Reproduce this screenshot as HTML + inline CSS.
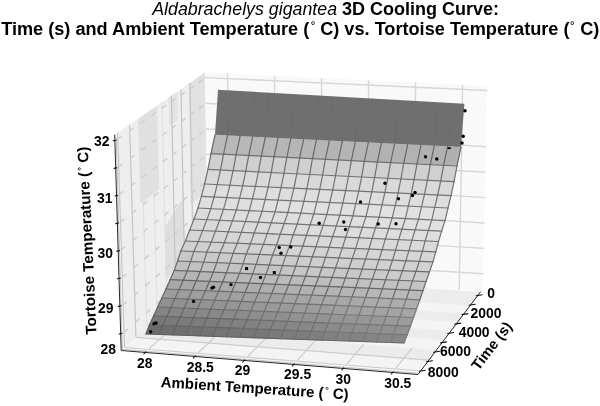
<!DOCTYPE html>
<html><head><meta charset="utf-8"><title>3D Cooling Curve</title><style>html,body{margin:0;padding:0;background:#fff}body{width:600px;height:406px;overflow:hidden}</style></head><body>
<svg width="600" height="406" viewBox="0 0 600 406" style="display:block;filter:blur(0.35px)">
<rect width="600" height="406" fill="#fff"/>
<polygon points="114.7,135.0 205.0,72.5 208.0,273.0 121.2,350.5" fill="#fbfbfb"/>
<polygon points="117.6,133.1 205.0,72.5 208.0,273.0 124.5,347.5" fill="#eeeeee"/>
<polygon points="138.0,119.0 157.0,105.8 159.1,189.0 140.4,203.4" fill="#e0e0e0"/>
<polygon points="168.6,97.7 177.4,91.6 178.0,120.3 169.3,126.6" fill="#e4e4e4"/>
<polygon points="188.5,84.0 205.0,72.5 206.7,188.8 190.7,205.8" fill="#e2e2e2"/>
<polygon points="165.0,226.7 184.0,196.8 185.0,249.9 166.2,280.6" fill="#dedede"/>
<line x1="117.6" y1="133.1" x2="124.5" y2="347.5" stroke="#c2c2c2" stroke-width="1.1"/>
<line x1="129.6" y1="124.8" x2="135.9" y2="337.3" stroke="#c2c2c2" stroke-width="1.1"/>
<line x1="140.9" y1="116.9" x2="146.8" y2="327.6" stroke="#e0e0e0" stroke-width="1.1"/>
<line x1="151.9" y1="109.3" x2="157.3" y2="318.2" stroke="#e0e0e0" stroke-width="1.1"/>
<line x1="162.0" y1="102.3" x2="166.9" y2="309.7" stroke="#e0e0e0" stroke-width="1.1"/>
<line x1="171.4" y1="95.8" x2="175.9" y2="301.6" stroke="#c2c2c2" stroke-width="1.1"/>
<line x1="181.0" y1="89.2" x2="185.0" y2="293.5" stroke="#c2c2c2" stroke-width="1.1"/>
<line x1="190.0" y1="82.9" x2="193.6" y2="285.8" stroke="#c2c2c2" stroke-width="1.1"/>
<line x1="199.0" y1="76.7" x2="202.2" y2="278.1" stroke="#e0e0e0" stroke-width="1.1"/>
<g stroke="#cdcdcd" stroke-width="1.4">
<line x1="117.2" y1="139.5" x2="121.7" y2="136.3"/>
<line x1="129.2" y1="131.1" x2="133.7" y2="128.0"/>
<line x1="140.5" y1="123.2" x2="145.0" y2="120.1"/>
<line x1="151.5" y1="115.5" x2="156.0" y2="112.4"/>
<line x1="161.5" y1="108.5" x2="166.1" y2="105.4"/>
<line x1="171.0" y1="101.9" x2="175.5" y2="98.8"/>
<line x1="180.5" y1="95.3" x2="185.0" y2="92.1"/>
<line x1="189.5" y1="89.0" x2="194.0" y2="85.8"/>
<line x1="198.5" y1="82.7" x2="203.0" y2="79.6"/>
<line x1="118.1" y1="167.1" x2="122.6" y2="163.9"/>
<line x1="130.0" y1="158.5" x2="134.5" y2="155.3"/>
<line x1="141.3" y1="150.3" x2="145.8" y2="147.1"/>
<line x1="152.2" y1="142.4" x2="156.7" y2="139.2"/>
<line x1="162.2" y1="135.2" x2="166.7" y2="132.0"/>
<line x1="171.5" y1="128.4" x2="176.0" y2="125.2"/>
<line x1="181.0" y1="121.6" x2="185.5" y2="118.4"/>
<line x1="189.9" y1="115.1" x2="194.4" y2="111.9"/>
<line x1="198.9" y1="108.7" x2="203.4" y2="105.4"/>
<line x1="119.0" y1="194.7" x2="123.5" y2="191.4"/>
<line x1="130.8" y1="185.9" x2="135.3" y2="182.6"/>
<line x1="142.0" y1="177.5" x2="146.5" y2="174.2"/>
<line x1="152.9" y1="169.4" x2="157.4" y2="166.0"/>
<line x1="162.8" y1="161.9" x2="167.3" y2="158.6"/>
<line x1="172.1" y1="155.0" x2="176.6" y2="151.6"/>
<line x1="181.5" y1="147.9" x2="186.0" y2="144.6"/>
<line x1="190.4" y1="141.3" x2="194.9" y2="138.0"/>
<line x1="199.3" y1="134.6" x2="203.8" y2="131.3"/>
<line x1="119.9" y1="222.4" x2="124.3" y2="219.0"/>
<line x1="131.6" y1="213.3" x2="136.1" y2="209.9"/>
<line x1="142.8" y1="204.6" x2="147.2" y2="201.2"/>
<line x1="153.6" y1="196.3" x2="158.0" y2="192.9"/>
<line x1="163.4" y1="188.6" x2="167.9" y2="185.3"/>
<line x1="172.7" y1="181.5" x2="177.2" y2="178.1"/>
<line x1="182.1" y1="174.2" x2="186.5" y2="170.9"/>
<line x1="190.9" y1="167.4" x2="195.3" y2="164.0"/>
<line x1="199.7" y1="160.6" x2="204.2" y2="157.2"/>
<line x1="120.7" y1="250.0" x2="125.2" y2="246.5"/>
<line x1="132.4" y1="240.6" x2="136.9" y2="237.2"/>
<line x1="143.5" y1="231.8" x2="148.0" y2="228.3"/>
<line x1="154.3" y1="223.2" x2="158.7" y2="219.7"/>
<line x1="164.1" y1="215.4" x2="168.5" y2="211.9"/>
<line x1="173.3" y1="208.0" x2="177.7" y2="204.5"/>
<line x1="182.6" y1="200.6" x2="187.0" y2="197.1"/>
<line x1="191.4" y1="193.5" x2="195.8" y2="190.1"/>
<line x1="200.1" y1="186.5" x2="204.6" y2="183.1"/>
<line x1="121.6" y1="277.6" x2="126.1" y2="274.0"/>
<line x1="133.3" y1="268.0" x2="137.7" y2="264.5"/>
<line x1="144.3" y1="258.9" x2="148.7" y2="255.4"/>
<line x1="155.0" y1="250.1" x2="159.4" y2="246.6"/>
<line x1="164.7" y1="242.1" x2="169.1" y2="238.5"/>
<line x1="173.9" y1="234.5" x2="178.3" y2="231.0"/>
<line x1="183.1" y1="226.9" x2="187.5" y2="223.3"/>
<line x1="191.8" y1="219.7" x2="196.2" y2="216.1"/>
<line x1="200.6" y1="212.5" x2="205.0" y2="208.9"/>
<line x1="122.5" y1="305.2" x2="126.9" y2="301.6"/>
<line x1="134.1" y1="295.4" x2="138.5" y2="291.8"/>
<line x1="145.0" y1="286.1" x2="149.4" y2="282.4"/>
<line x1="155.6" y1="277.0" x2="160.0" y2="273.4"/>
<line x1="165.3" y1="268.8" x2="169.7" y2="265.2"/>
<line x1="174.4" y1="261.0" x2="178.8" y2="257.4"/>
<line x1="183.6" y1="253.2" x2="188.0" y2="249.6"/>
<line x1="192.3" y1="245.8" x2="196.7" y2="242.2"/>
<line x1="201.0" y1="238.4" x2="205.4" y2="234.8"/>
<line x1="123.4" y1="332.8" x2="127.8" y2="329.1"/>
<line x1="134.9" y1="322.8" x2="139.3" y2="319.1"/>
<line x1="145.8" y1="313.2" x2="150.2" y2="309.5"/>
<line x1="156.3" y1="303.9" x2="160.7" y2="300.2"/>
<line x1="166.0" y1="295.5" x2="170.3" y2="291.8"/>
<line x1="175.0" y1="287.6" x2="179.4" y2="283.8"/>
<line x1="184.2" y1="279.5" x2="188.5" y2="275.8"/>
<line x1="192.8" y1="272.0" x2="197.2" y2="268.3"/>
<line x1="201.4" y1="264.4" x2="205.8" y2="260.7"/>
</g>
<polygon points="205.0,72.5 487.5,86.0 482.4,291.5 208.0,273.0" fill="#f9f9f9"/>
<g stroke="#d7d7d7" stroke-width="1.4">
<line x1="227.6" y1="73.6" x2="230.0" y2="274.5"/>
<line x1="274.6" y1="75.8" x2="275.9" y2="277.6"/>
<line x1="321.6" y1="78.1" x2="321.7" y2="280.6"/>
<line x1="368.6" y1="80.3" x2="367.5" y2="283.7"/>
<line x1="415.6" y1="82.6" x2="413.4" y2="286.8"/>
<line x1="462.6" y1="84.8" x2="459.2" y2="289.9"/>
<line x1="205.0" y1="77.6" x2="487.2" y2="90.5"/>
<line x1="205.3" y1="103.2" x2="233.5" y2="105.0"/>
<line x1="205.7" y1="128.8" x2="486.2" y2="146.8"/>
<line x1="206.1" y1="154.4" x2="485.7" y2="172.2"/>
<line x1="206.4" y1="180.0" x2="485.2" y2="197.6"/>
<line x1="206.8" y1="205.6" x2="484.7" y2="223.0"/>
<line x1="207.1" y1="231.2" x2="484.2" y2="248.4"/>
<line x1="207.4" y1="256.8" x2="483.7" y2="273.8"/>
</g>
<polygon points="121.2,350.5 208.0,273.0 480.4,292.0 418.0,374.5" fill="#fafafa"/>
<polygon points="124.5,347.5 208.0,273.0 480.4,292.0 420.6,371.0" fill="#ececec"/>
<polygon points="124.5,347.5 420.6,371.0 428.8,360.2 135.9,337.3" fill="#f4f4f4"/>
<polygon points="146.8,327.6 436.6,349.9 444.1,340.0 157.3,318.2" fill="#f4f4f4"/>
<polygon points="166.9,309.7 451.0,330.9 457.4,322.3 175.9,301.6" fill="#f4f4f4"/>
<polygon points="185.0,293.5 464.0,313.7 470.1,305.6 193.6,285.8" fill="#f4f4f4"/>
<g stroke="#cdcdcd" stroke-width="1.2">
<line x1="124.5" y1="347.5" x2="420.6" y2="371.0"/>
<line x1="135.9" y1="337.3" x2="428.8" y2="360.2"/>
<line x1="149.3" y1="348.5" x2="170.8" y2="329.1"/>
<line x1="198.6" y1="352.5" x2="219.0" y2="332.8"/>
<line x1="247.9" y1="356.4" x2="267.3" y2="336.6"/>
<line x1="297.2" y1="360.4" x2="315.5" y2="340.3"/>
<line x1="346.5" y1="364.3" x2="363.8" y2="344.1"/>
<line x1="395.8" y1="368.3" x2="412.0" y2="347.8"/>
</g>
<polygon points="215.0,134.8 227.5,135.4 223.5,154.3 211.0,153.6" fill="#b9b9b9" stroke="#b9b9b9" stroke-width="0.4"/>
<polygon points="227.5,135.4 240.1,136.1 236.1,154.9 223.5,154.3" fill="#b8b8b8" stroke="#b8b8b8" stroke-width="0.4"/>
<polygon points="240.1,136.1 252.7,136.7 248.7,155.6 236.1,154.9" fill="#b8b8b8" stroke="#b8b8b8" stroke-width="0.4"/>
<polygon points="252.7,136.7 265.3,137.4 261.3,156.2 248.7,155.6" fill="#b8b8b8" stroke="#b8b8b8" stroke-width="0.4"/>
<polygon points="265.3,137.4 278.0,138.0 274.0,156.9 261.3,156.2" fill="#b7b7b7" stroke="#b7b7b7" stroke-width="0.4"/>
<polygon points="278.0,138.0 290.8,138.7 286.8,157.5 274.0,156.9" fill="#b6b6b6" stroke="#b6b6b6" stroke-width="0.4"/>
<polygon points="290.8,138.7 303.6,139.3 299.6,158.2 286.8,157.5" fill="#b6b6b6" stroke="#b6b6b6" stroke-width="0.4"/>
<polygon points="303.6,139.3 316.4,139.9 312.4,158.8 299.6,158.2" fill="#b6b6b6" stroke="#b6b6b6" stroke-width="0.4"/>
<polygon points="316.4,139.9 329.3,140.6 325.3,159.5 312.4,158.8" fill="#b5b5b5" stroke="#b5b5b5" stroke-width="0.4"/>
<polygon points="329.3,140.6 342.3,141.2 338.3,160.1 325.3,159.5" fill="#b4b4b4" stroke="#b4b4b4" stroke-width="0.4"/>
<polygon points="342.3,141.2 355.3,141.9 351.3,160.8 338.3,160.1" fill="#b4b4b4" stroke="#b4b4b4" stroke-width="0.4"/>
<polygon points="355.3,141.9 368.3,142.5 364.3,161.4 351.3,160.8" fill="#b4b4b4" stroke="#b4b4b4" stroke-width="0.4"/>
<polygon points="368.3,142.5 381.4,143.1 377.4,162.1 364.3,161.4" fill="#b3b3b3" stroke="#b3b3b3" stroke-width="0.4"/>
<polygon points="381.4,143.1 394.6,143.8 390.6,162.7 377.4,162.1" fill="#b2b2b2" stroke="#b2b2b2" stroke-width="0.4"/>
<polygon points="394.6,143.8 407.7,144.4 403.7,163.4 390.6,162.7" fill="#b2b2b2" stroke="#b2b2b2" stroke-width="0.4"/>
<polygon points="407.7,144.4 421.0,145.1 417.0,164.0 403.7,163.4" fill="#b2b2b2" stroke="#b2b2b2" stroke-width="0.4"/>
<polygon points="421.0,145.1 434.3,145.7 430.3,164.7 417.0,164.0" fill="#b1b1b1" stroke="#b1b1b1" stroke-width="0.4"/>
<polygon points="434.3,145.7 447.6,146.4 443.6,165.3 430.3,164.7" fill="#b0b0b0" stroke="#b0b0b0" stroke-width="0.4"/>
<polygon points="447.6,146.4 461.0,147.0 457.0,166.0 443.6,165.3" fill="#b0b0b0" stroke="#b0b0b0" stroke-width="0.4"/>
<polygon points="211.0,153.6 223.5,154.3 220.5,170.0 207.9,169.4" fill="#cfcfcf" stroke="#cfcfcf" stroke-width="0.4"/>
<polygon points="223.5,154.3 236.1,154.9 233.1,170.7 220.5,170.0" fill="#cfcfcf" stroke="#cfcfcf" stroke-width="0.4"/>
<polygon points="236.1,154.9 248.7,155.6 245.7,171.3 233.1,170.7" fill="#cfcfcf" stroke="#cfcfcf" stroke-width="0.4"/>
<polygon points="248.7,155.6 261.3,156.2 258.4,172.0 245.7,171.3" fill="#cfcfcf" stroke="#cfcfcf" stroke-width="0.4"/>
<polygon points="261.3,156.2 274.0,156.9 271.2,172.6 258.4,172.0" fill="#cfcfcf" stroke="#cfcfcf" stroke-width="0.4"/>
<polygon points="274.0,156.9 286.8,157.5 284.0,173.3 271.2,172.6" fill="#cfcfcf" stroke="#cfcfcf" stroke-width="0.4"/>
<polygon points="286.8,157.5 299.6,158.2 296.8,173.9 284.0,173.3" fill="#cfcfcf" stroke="#cfcfcf" stroke-width="0.4"/>
<polygon points="299.6,158.2 312.4,158.8 309.7,174.5 296.8,173.9" fill="#cfcfcf" stroke="#cfcfcf" stroke-width="0.4"/>
<polygon points="312.4,158.8 325.3,159.5 322.6,175.2 309.7,174.5" fill="#cfcfcf" stroke="#cfcfcf" stroke-width="0.4"/>
<polygon points="325.3,159.5 338.3,160.1 335.5,175.8 322.6,175.2" fill="#d0d0d0" stroke="#d0d0d0" stroke-width="0.4"/>
<polygon points="338.3,160.1 351.3,160.8 348.5,176.5 335.5,175.8" fill="#d0d0d0" stroke="#d0d0d0" stroke-width="0.4"/>
<polygon points="351.3,160.8 364.3,161.4 361.6,177.1 348.5,176.5" fill="#d0d0d0" stroke="#d0d0d0" stroke-width="0.4"/>
<polygon points="364.3,161.4 377.4,162.1 374.6,177.7 361.6,177.1" fill="#d0d0d0" stroke="#d0d0d0" stroke-width="0.4"/>
<polygon points="377.4,162.1 390.6,162.7 387.8,178.4 374.6,177.7" fill="#d0d0d0" stroke="#d0d0d0" stroke-width="0.4"/>
<polygon points="390.6,162.7 403.7,163.4 400.9,179.0 387.8,178.4" fill="#d0d0d0" stroke="#d0d0d0" stroke-width="0.4"/>
<polygon points="403.7,163.4 417.0,164.0 414.1,179.7 400.9,179.0" fill="#d0d0d0" stroke="#d0d0d0" stroke-width="0.4"/>
<polygon points="417.0,164.0 430.3,164.7 427.4,180.3 414.1,179.7" fill="#d0d0d0" stroke="#d0d0d0" stroke-width="0.4"/>
<polygon points="430.3,164.7 443.6,165.3 440.7,181.0 427.4,180.3" fill="#d0d0d0" stroke="#d0d0d0" stroke-width="0.4"/>
<polygon points="443.6,165.3 457.0,166.0 454.0,181.6 440.7,181.0" fill="#d0d0d0" stroke="#d0d0d0" stroke-width="0.4"/>
<polygon points="207.9,169.4 220.5,170.0 217.2,184.6 204.6,184.0" fill="#d9d9d9" stroke="#d9d9d9" stroke-width="0.4"/>
<polygon points="220.5,170.0 233.1,170.7 229.9,185.2 217.2,184.6" fill="#d9d9d9" stroke="#d9d9d9" stroke-width="0.4"/>
<polygon points="233.1,170.7 245.7,171.3 242.7,185.8 229.9,185.2" fill="#d9d9d9" stroke="#d9d9d9" stroke-width="0.4"/>
<polygon points="245.7,171.3 258.4,172.0 255.4,186.4 242.7,185.8" fill="#d9d9d9" stroke="#d9d9d9" stroke-width="0.4"/>
<polygon points="258.4,172.0 271.2,172.6 268.2,187.1 255.4,186.4" fill="#d9d9d9" stroke="#d9d9d9" stroke-width="0.4"/>
<polygon points="271.2,172.6 284.0,173.3 281.0,187.7 268.2,187.1" fill="#d9d9d9" stroke="#d9d9d9" stroke-width="0.4"/>
<polygon points="284.0,173.3 296.8,173.9 293.9,188.3 281.0,187.7" fill="#d9d9d9" stroke="#d9d9d9" stroke-width="0.4"/>
<polygon points="296.8,173.9 309.7,174.5 306.8,188.9 293.9,188.3" fill="#d9d9d9" stroke="#d9d9d9" stroke-width="0.4"/>
<polygon points="309.7,174.5 322.6,175.2 319.7,189.5 306.8,188.9" fill="#d9d9d9" stroke="#d9d9d9" stroke-width="0.4"/>
<polygon points="322.6,175.2 335.5,175.8 332.7,190.1 319.7,189.5" fill="#d9d9d9" stroke="#d9d9d9" stroke-width="0.4"/>
<polygon points="335.5,175.8 348.5,176.5 345.7,190.7 332.7,190.1" fill="#d9d9d9" stroke="#d9d9d9" stroke-width="0.4"/>
<polygon points="348.5,176.5 361.6,177.1 358.7,191.3 345.7,190.7" fill="#d9d9d9" stroke="#d9d9d9" stroke-width="0.4"/>
<polygon points="361.6,177.1 374.6,177.7 371.8,191.9 358.7,191.3" fill="#d9d9d9" stroke="#d9d9d9" stroke-width="0.4"/>
<polygon points="374.6,177.7 387.8,178.4 384.9,192.5 371.8,191.9" fill="#d9d9d9" stroke="#d9d9d9" stroke-width="0.4"/>
<polygon points="387.8,178.4 400.9,179.0 398.1,193.2 384.9,192.5" fill="#d9d9d9" stroke="#d9d9d9" stroke-width="0.4"/>
<polygon points="400.9,179.0 414.1,179.7 411.2,193.8 398.1,193.2" fill="#d9d9d9" stroke="#d9d9d9" stroke-width="0.4"/>
<polygon points="414.1,179.7 427.4,180.3 424.5,194.4 411.2,193.8" fill="#d9d9d9" stroke="#d9d9d9" stroke-width="0.4"/>
<polygon points="427.4,180.3 440.7,181.0 437.7,195.0 424.5,194.4" fill="#d9d9d9" stroke="#d9d9d9" stroke-width="0.4"/>
<polygon points="440.7,181.0 454.0,181.6 451.0,195.6 437.7,195.0" fill="#d9d9d9" stroke="#d9d9d9" stroke-width="0.4"/>
<polygon points="204.6,184.0 217.2,184.6 214.1,197.0 201.4,196.4" fill="#dedede" stroke="#dedede" stroke-width="0.4"/>
<polygon points="217.2,184.6 229.9,185.2 226.8,197.6 214.1,197.0" fill="#dedede" stroke="#dedede" stroke-width="0.4"/>
<polygon points="229.9,185.2 242.7,185.8 239.6,198.2 226.8,197.6" fill="#dedede" stroke="#dedede" stroke-width="0.4"/>
<polygon points="242.7,185.8 255.4,186.4 252.4,198.8 239.6,198.2" fill="#dedede" stroke="#dedede" stroke-width="0.4"/>
<polygon points="255.4,186.4 268.2,187.1 265.2,199.5 252.4,198.8" fill="#dedede" stroke="#dedede" stroke-width="0.4"/>
<polygon points="268.2,187.1 281.0,187.7 278.1,200.1 265.2,199.5" fill="#dedede" stroke="#dedede" stroke-width="0.4"/>
<polygon points="281.0,187.7 293.9,188.3 290.9,200.7 278.1,200.1" fill="#dedede" stroke="#dedede" stroke-width="0.4"/>
<polygon points="293.9,188.3 306.8,188.9 303.9,201.3 290.9,200.7" fill="#dedede" stroke="#dedede" stroke-width="0.4"/>
<polygon points="306.8,188.9 319.7,189.5 316.8,201.9 303.9,201.3" fill="#dedede" stroke="#dedede" stroke-width="0.4"/>
<polygon points="319.7,189.5 332.7,190.1 329.8,202.5 316.8,201.9" fill="#dedede" stroke="#dedede" stroke-width="0.4"/>
<polygon points="332.7,190.1 345.7,190.7 342.8,203.1 329.8,202.5" fill="#dedede" stroke="#dedede" stroke-width="0.4"/>
<polygon points="345.7,190.7 358.7,191.3 355.8,203.7 342.8,203.1" fill="#dedede" stroke="#dedede" stroke-width="0.4"/>
<polygon points="358.7,191.3 371.8,191.9 368.9,204.3 355.8,203.7" fill="#dedede" stroke="#dedede" stroke-width="0.4"/>
<polygon points="371.8,191.9 384.9,192.5 382.0,204.9 368.9,204.3" fill="#dedede" stroke="#dedede" stroke-width="0.4"/>
<polygon points="384.9,192.5 398.1,193.2 395.2,205.6 382.0,204.9" fill="#dedede" stroke="#dedede" stroke-width="0.4"/>
<polygon points="398.1,193.2 411.2,193.8 408.3,206.2 395.2,205.6" fill="#dedede" stroke="#dedede" stroke-width="0.4"/>
<polygon points="411.2,193.8 424.5,194.4 421.5,206.8 408.3,206.2" fill="#dedede" stroke="#dedede" stroke-width="0.4"/>
<polygon points="424.5,194.4 437.7,195.0 434.7,207.4 421.5,206.8" fill="#dedede" stroke="#dedede" stroke-width="0.4"/>
<polygon points="437.7,195.0 451.0,195.6 448.0,208.0 434.7,207.4" fill="#dedede" stroke="#dedede" stroke-width="0.4"/>
<polygon points="201.4,196.4 214.1,197.0 210.8,208.7 198.0,208.0" fill="#dfdfdf" stroke="#dfdfdf" stroke-width="0.4"/>
<polygon points="214.1,197.0 226.8,197.6 223.5,209.3 210.8,208.7" fill="#dfdfdf" stroke="#dfdfdf" stroke-width="0.4"/>
<polygon points="226.8,197.6 239.6,198.2 236.4,210.0 223.5,209.3" fill="#dfdfdf" stroke="#dfdfdf" stroke-width="0.4"/>
<polygon points="239.6,198.2 252.4,198.8 249.2,210.7 236.4,210.0" fill="#dfdfdf" stroke="#dfdfdf" stroke-width="0.4"/>
<polygon points="252.4,198.8 265.2,199.5 262.1,211.3 249.2,210.7" fill="#dfdfdf" stroke="#dfdfdf" stroke-width="0.4"/>
<polygon points="265.2,199.5 278.1,200.1 275.0,212.0 262.1,211.3" fill="#e0e0e0" stroke="#e0e0e0" stroke-width="0.4"/>
<polygon points="278.1,200.1 290.9,200.7 287.9,212.6 275.0,212.0" fill="#e0e0e0" stroke="#e0e0e0" stroke-width="0.4"/>
<polygon points="290.9,200.7 303.9,201.3 300.8,213.3 287.9,212.6" fill="#e0e0e0" stroke="#e0e0e0" stroke-width="0.4"/>
<polygon points="303.9,201.3 316.8,201.9 313.8,214.0 300.8,213.3" fill="#e0e0e0" stroke="#e0e0e0" stroke-width="0.4"/>
<polygon points="316.8,201.9 329.8,202.5 326.8,214.6 313.8,214.0" fill="#e0e0e0" stroke="#e0e0e0" stroke-width="0.4"/>
<polygon points="329.8,202.5 342.8,203.1 339.8,215.3 326.8,214.6" fill="#e0e0e0" stroke="#e0e0e0" stroke-width="0.4"/>
<polygon points="342.8,203.1 355.8,203.7 352.9,216.0 339.8,215.3" fill="#e0e0e0" stroke="#e0e0e0" stroke-width="0.4"/>
<polygon points="355.8,203.7 368.9,204.3 366.0,216.6 352.9,216.0" fill="#e0e0e0" stroke="#e0e0e0" stroke-width="0.4"/>
<polygon points="368.9,204.3 382.0,204.9 379.1,217.3 366.0,216.6" fill="#e0e0e0" stroke="#e0e0e0" stroke-width="0.4"/>
<polygon points="382.0,204.9 395.2,205.6 392.2,217.9 379.1,217.3" fill="#e1e1e1" stroke="#e1e1e1" stroke-width="0.4"/>
<polygon points="395.2,205.6 408.3,206.2 405.4,218.6 392.2,217.9" fill="#e1e1e1" stroke="#e1e1e1" stroke-width="0.4"/>
<polygon points="408.3,206.2 421.5,206.8 418.5,219.3 405.4,218.6" fill="#e1e1e1" stroke="#e1e1e1" stroke-width="0.4"/>
<polygon points="421.5,206.8 434.7,207.4 431.8,219.9 418.5,219.3" fill="#e1e1e1" stroke="#e1e1e1" stroke-width="0.4"/>
<polygon points="434.7,207.4 448.0,208.0 445.0,220.6 431.8,219.9" fill="#e1e1e1" stroke="#e1e1e1" stroke-width="0.4"/>
<polygon points="198.0,208.0 210.8,208.7 206.9,219.6 194.1,219.0" fill="#dcdcdc" stroke="#dcdcdc" stroke-width="0.4"/>
<polygon points="210.8,208.7 223.5,209.3 219.7,220.3 206.9,219.6" fill="#dcdcdc" stroke="#dcdcdc" stroke-width="0.4"/>
<polygon points="223.5,209.3 236.4,210.0 232.5,220.9 219.7,220.3" fill="#dcdcdc" stroke="#dcdcdc" stroke-width="0.4"/>
<polygon points="236.4,210.0 249.2,210.7 245.4,221.6 232.5,220.9" fill="#dddddd" stroke="#dddddd" stroke-width="0.4"/>
<polygon points="249.2,210.7 262.1,211.3 258.3,222.2 245.4,221.6" fill="#dddddd" stroke="#dddddd" stroke-width="0.4"/>
<polygon points="262.1,211.3 275.0,212.0 271.2,222.9 258.3,222.2" fill="#dddddd" stroke="#dddddd" stroke-width="0.4"/>
<polygon points="275.0,212.0 287.9,212.6 284.2,223.5 271.2,222.9" fill="#dddddd" stroke="#dddddd" stroke-width="0.4"/>
<polygon points="287.9,212.6 300.8,213.3 297.1,224.2 284.2,223.5" fill="#dedede" stroke="#dedede" stroke-width="0.4"/>
<polygon points="300.8,213.3 313.8,214.0 310.1,224.8 297.1,224.2" fill="#dedede" stroke="#dedede" stroke-width="0.4"/>
<polygon points="313.8,214.0 326.8,214.6 323.2,225.4 310.1,224.8" fill="#dedede" stroke="#dedede" stroke-width="0.4"/>
<polygon points="326.8,214.6 339.8,215.3 336.2,226.1 323.2,225.4" fill="#dedede" stroke="#dedede" stroke-width="0.4"/>
<polygon points="339.8,215.3 352.9,216.0 349.3,226.7 336.2,226.1" fill="#dedede" stroke="#dedede" stroke-width="0.4"/>
<polygon points="352.9,216.0 366.0,216.6 362.4,227.4 349.3,226.7" fill="#dfdfdf" stroke="#dfdfdf" stroke-width="0.4"/>
<polygon points="366.0,216.6 379.1,217.3 375.5,228.0 362.4,227.4" fill="#dfdfdf" stroke="#dfdfdf" stroke-width="0.4"/>
<polygon points="379.1,217.3 392.2,217.9 388.7,228.7 375.5,228.0" fill="#dfdfdf" stroke="#dfdfdf" stroke-width="0.4"/>
<polygon points="392.2,217.9 405.4,218.6 401.9,229.3 388.7,228.7" fill="#dfdfdf" stroke="#dfdfdf" stroke-width="0.4"/>
<polygon points="405.4,218.6 418.5,219.3 415.1,230.0 401.9,229.3" fill="#e0e0e0" stroke="#e0e0e0" stroke-width="0.4"/>
<polygon points="418.5,219.3 431.8,219.9 428.3,230.6 415.1,230.0" fill="#e0e0e0" stroke="#e0e0e0" stroke-width="0.4"/>
<polygon points="431.8,219.9 445.0,220.6 441.6,231.2 428.3,230.6" fill="#e0e0e0" stroke="#e0e0e0" stroke-width="0.4"/>
<polygon points="194.1,219.0 206.9,219.6 202.6,230.6 189.7,230.0" fill="#d9d9d9" stroke="#d9d9d9" stroke-width="0.4"/>
<polygon points="206.9,219.6 219.7,220.3 215.4,231.2 202.6,230.6" fill="#d9d9d9" stroke="#d9d9d9" stroke-width="0.4"/>
<polygon points="219.7,220.3 232.5,220.9 228.3,231.8 215.4,231.2" fill="#dadada" stroke="#dadada" stroke-width="0.4"/>
<polygon points="232.5,220.9 245.4,221.6 241.3,232.4 228.3,231.8" fill="#dadada" stroke="#dadada" stroke-width="0.4"/>
<polygon points="245.4,221.6 258.3,222.2 254.2,233.0 241.3,232.4" fill="#dadada" stroke="#dadada" stroke-width="0.4"/>
<polygon points="258.3,222.2 271.2,222.9 267.2,233.6 254.2,233.0" fill="#dadada" stroke="#dadada" stroke-width="0.4"/>
<polygon points="271.2,222.9 284.2,223.5 280.2,234.2 267.2,233.6" fill="#dbdbdb" stroke="#dbdbdb" stroke-width="0.4"/>
<polygon points="284.2,223.5 297.1,224.2 293.3,234.8 280.2,234.2" fill="#dbdbdb" stroke="#dbdbdb" stroke-width="0.4"/>
<polygon points="297.1,224.2 310.1,224.8 306.4,235.4 293.3,234.8" fill="#dbdbdb" stroke="#dbdbdb" stroke-width="0.4"/>
<polygon points="310.1,224.8 323.2,225.4 319.5,236.1 306.4,235.4" fill="#dcdcdc" stroke="#dcdcdc" stroke-width="0.4"/>
<polygon points="323.2,225.4 336.2,226.1 332.6,236.7 319.5,236.1" fill="#dcdcdc" stroke="#dcdcdc" stroke-width="0.4"/>
<polygon points="336.2,226.1 349.3,226.7 345.7,237.3 332.6,236.7" fill="#dcdcdc" stroke="#dcdcdc" stroke-width="0.4"/>
<polygon points="349.3,226.7 362.4,227.4 358.9,237.9 345.7,237.3" fill="#dcdcdc" stroke="#dcdcdc" stroke-width="0.4"/>
<polygon points="362.4,227.4 375.5,228.0 372.1,238.5 358.9,237.9" fill="#dddddd" stroke="#dddddd" stroke-width="0.4"/>
<polygon points="375.5,228.0 388.7,228.7 385.3,239.1 372.1,238.5" fill="#dddddd" stroke="#dddddd" stroke-width="0.4"/>
<polygon points="388.7,228.7 401.9,229.3 398.6,239.7 385.3,239.1" fill="#dddddd" stroke="#dddddd" stroke-width="0.4"/>
<polygon points="401.9,229.3 415.1,230.0 411.9,240.3 398.6,239.7" fill="#dddddd" stroke="#dddddd" stroke-width="0.4"/>
<polygon points="415.1,230.0 428.3,230.6 425.2,240.9 411.9,240.3" fill="#dedede" stroke="#dedede" stroke-width="0.4"/>
<polygon points="428.3,230.6 441.6,231.2 438.5,241.5 425.2,240.9" fill="#dedede" stroke="#dedede" stroke-width="0.4"/>
<polygon points="189.7,230.0 202.6,230.6 198.3,241.6 185.4,241.0" fill="#d5d5d5" stroke="#d5d5d5" stroke-width="0.4"/>
<polygon points="202.6,230.6 215.4,231.2 211.3,242.1 198.3,241.6" fill="#d5d5d5" stroke="#d5d5d5" stroke-width="0.4"/>
<polygon points="215.4,231.2 228.3,231.8 224.3,242.7 211.3,242.1" fill="#d6d6d6" stroke="#d6d6d6" stroke-width="0.4"/>
<polygon points="228.3,231.8 241.3,232.4 237.3,243.3 224.3,242.7" fill="#d6d6d6" stroke="#d6d6d6" stroke-width="0.4"/>
<polygon points="241.3,232.4 254.2,233.0 250.4,243.9 237.3,243.3" fill="#d6d6d6" stroke="#d6d6d6" stroke-width="0.4"/>
<polygon points="254.2,233.0 267.2,233.6 263.4,244.4 250.4,243.9" fill="#d6d6d6" stroke="#d6d6d6" stroke-width="0.4"/>
<polygon points="267.2,233.6 280.2,234.2 276.5,245.0 263.4,244.4" fill="#d7d7d7" stroke="#d7d7d7" stroke-width="0.4"/>
<polygon points="280.2,234.2 293.3,234.8 289.6,245.6 276.5,245.0" fill="#d7d7d7" stroke="#d7d7d7" stroke-width="0.4"/>
<polygon points="293.3,234.8 306.4,235.4 302.8,246.2 289.6,245.6" fill="#d7d7d7" stroke="#d7d7d7" stroke-width="0.4"/>
<polygon points="306.4,235.4 319.5,236.1 316.0,246.7 302.8,246.2" fill="#d8d8d8" stroke="#d8d8d8" stroke-width="0.4"/>
<polygon points="319.5,236.1 332.6,236.7 329.2,247.3 316.0,246.7" fill="#d8d8d8" stroke="#d8d8d8" stroke-width="0.4"/>
<polygon points="332.6,236.7 345.7,237.3 342.4,247.9 329.2,247.3" fill="#d8d8d8" stroke="#d8d8d8" stroke-width="0.4"/>
<polygon points="345.7,237.3 358.9,237.9 355.7,248.5 342.4,247.9" fill="#d8d8d8" stroke="#d8d8d8" stroke-width="0.4"/>
<polygon points="358.9,237.9 372.1,238.5 368.9,249.0 355.7,248.5" fill="#d9d9d9" stroke="#d9d9d9" stroke-width="0.4"/>
<polygon points="372.1,238.5 385.3,239.1 382.2,249.6 368.9,249.0" fill="#d9d9d9" stroke="#d9d9d9" stroke-width="0.4"/>
<polygon points="385.3,239.1 398.6,239.7 395.6,250.2 382.2,249.6" fill="#d9d9d9" stroke="#d9d9d9" stroke-width="0.4"/>
<polygon points="398.6,239.7 411.9,240.3 408.9,250.8 395.6,250.2" fill="#d9d9d9" stroke="#d9d9d9" stroke-width="0.4"/>
<polygon points="411.9,240.3 425.2,240.9 422.3,251.3 408.9,250.8" fill="#dadada" stroke="#dadada" stroke-width="0.4"/>
<polygon points="425.2,240.9 438.5,241.5 435.8,251.9 422.3,251.3" fill="#dadada" stroke="#dadada" stroke-width="0.4"/>
<polygon points="185.4,241.0 198.3,241.6 193.8,251.6 180.8,251.0" fill="#d0d0d0" stroke="#d0d0d0" stroke-width="0.4"/>
<polygon points="198.3,241.6 211.3,242.1 206.9,252.1 193.8,251.6" fill="#d0d0d0" stroke="#d0d0d0" stroke-width="0.4"/>
<polygon points="211.3,242.1 224.3,242.7 220.0,252.7 206.9,252.1" fill="#d1d1d1" stroke="#d1d1d1" stroke-width="0.4"/>
<polygon points="224.3,242.7 237.3,243.3 233.1,253.3 220.0,252.7" fill="#d1d1d1" stroke="#d1d1d1" stroke-width="0.4"/>
<polygon points="237.3,243.3 250.4,243.9 246.2,253.9 233.1,253.3" fill="#d1d1d1" stroke="#d1d1d1" stroke-width="0.4"/>
<polygon points="250.4,243.9 263.4,244.4 259.4,254.4 246.2,253.9" fill="#d2d2d2" stroke="#d2d2d2" stroke-width="0.4"/>
<polygon points="263.4,244.4 276.5,245.0 272.6,255.0 259.4,254.4" fill="#d2d2d2" stroke="#d2d2d2" stroke-width="0.4"/>
<polygon points="276.5,245.0 289.6,245.6 285.8,255.6 272.6,255.0" fill="#d2d2d2" stroke="#d2d2d2" stroke-width="0.4"/>
<polygon points="289.6,245.6 302.8,246.2 299.0,256.2 285.8,255.6" fill="#d3d3d3" stroke="#d3d3d3" stroke-width="0.4"/>
<polygon points="302.8,246.2 316.0,246.7 312.3,256.7 299.0,256.2" fill="#d3d3d3" stroke="#d3d3d3" stroke-width="0.4"/>
<polygon points="316.0,246.7 329.2,247.3 325.6,257.3 312.3,256.7" fill="#d3d3d3" stroke="#d3d3d3" stroke-width="0.4"/>
<polygon points="329.2,247.3 342.4,247.9 338.9,257.9 325.6,257.3" fill="#d4d4d4" stroke="#d4d4d4" stroke-width="0.4"/>
<polygon points="342.4,247.9 355.7,248.5 352.3,258.5 338.9,257.9" fill="#d4d4d4" stroke="#d4d4d4" stroke-width="0.4"/>
<polygon points="355.7,248.5 368.9,249.0 365.6,259.0 352.3,258.5" fill="#d4d4d4" stroke="#d4d4d4" stroke-width="0.4"/>
<polygon points="368.9,249.0 382.2,249.6 379.0,259.6 365.6,259.0" fill="#d5d5d5" stroke="#d5d5d5" stroke-width="0.4"/>
<polygon points="382.2,249.6 395.6,250.2 392.5,260.2 379.0,259.6" fill="#d5d5d5" stroke="#d5d5d5" stroke-width="0.4"/>
<polygon points="395.6,250.2 408.9,250.8 405.9,260.8 392.5,260.2" fill="#d5d5d5" stroke="#d5d5d5" stroke-width="0.4"/>
<polygon points="408.9,250.8 422.3,251.3 419.4,261.3 405.9,260.8" fill="#d6d6d6" stroke="#d6d6d6" stroke-width="0.4"/>
<polygon points="422.3,251.3 435.8,251.9 432.9,261.9 419.4,261.3" fill="#d6d6d6" stroke="#d6d6d6" stroke-width="0.4"/>
<polygon points="180.8,251.0 193.8,251.6 190.6,261.6 177.6,261.0" fill="#c8c8c8" stroke="#c8c8c8" stroke-width="0.4"/>
<polygon points="193.8,251.6 206.9,252.1 203.7,262.1 190.6,261.6" fill="#c9c9c9" stroke="#c9c9c9" stroke-width="0.4"/>
<polygon points="206.9,252.1 220.0,252.7 216.7,262.7 203.7,262.1" fill="#c9c9c9" stroke="#c9c9c9" stroke-width="0.4"/>
<polygon points="220.0,252.7 233.1,253.3 229.8,263.3 216.7,262.7" fill="#cacaca" stroke="#cacaca" stroke-width="0.4"/>
<polygon points="233.1,253.3 246.2,253.9 243.0,263.9 229.8,263.3" fill="#cacaca" stroke="#cacaca" stroke-width="0.4"/>
<polygon points="246.2,253.9 259.4,254.4 256.1,264.4 243.0,263.9" fill="#cbcbcb" stroke="#cbcbcb" stroke-width="0.4"/>
<polygon points="259.4,254.4 272.6,255.0 269.3,265.0 256.1,264.4" fill="#cbcbcb" stroke="#cbcbcb" stroke-width="0.4"/>
<polygon points="272.6,255.0 285.8,255.6 282.5,265.6 269.3,265.0" fill="#cccccc" stroke="#cccccc" stroke-width="0.4"/>
<polygon points="285.8,255.6 299.0,256.2 295.7,266.2 282.5,265.6" fill="#cccccc" stroke="#cccccc" stroke-width="0.4"/>
<polygon points="299.0,256.2 312.3,256.7 309.0,266.7 295.7,266.2" fill="#cdcdcd" stroke="#cdcdcd" stroke-width="0.4"/>
<polygon points="312.3,256.7 325.6,257.3 322.3,267.3 309.0,266.7" fill="#cecece" stroke="#cecece" stroke-width="0.4"/>
<polygon points="325.6,257.3 338.9,257.9 335.6,267.9 322.3,267.3" fill="#cecece" stroke="#cecece" stroke-width="0.4"/>
<polygon points="338.9,257.9 352.3,258.5 348.9,268.5 335.6,267.9" fill="#cfcfcf" stroke="#cfcfcf" stroke-width="0.4"/>
<polygon points="352.3,258.5 365.6,259.0 362.3,269.0 348.9,268.5" fill="#cfcfcf" stroke="#cfcfcf" stroke-width="0.4"/>
<polygon points="365.6,259.0 379.0,259.6 375.7,269.6 362.3,269.0" fill="#d0d0d0" stroke="#d0d0d0" stroke-width="0.4"/>
<polygon points="379.0,259.6 392.5,260.2 389.1,270.2 375.7,269.6" fill="#d0d0d0" stroke="#d0d0d0" stroke-width="0.4"/>
<polygon points="392.5,260.2 405.9,260.8 402.5,270.8 389.1,270.2" fill="#d1d1d1" stroke="#d1d1d1" stroke-width="0.4"/>
<polygon points="405.9,260.8 419.4,261.3 416.0,271.3 402.5,270.8" fill="#d1d1d1" stroke="#d1d1d1" stroke-width="0.4"/>
<polygon points="419.4,261.3 432.9,261.9 429.5,271.9 416.0,271.3" fill="#d2d2d2" stroke="#d2d2d2" stroke-width="0.4"/>
<polygon points="177.6,261.0 190.6,261.6 187.2,271.0 174.2,270.4" fill="#c0c0c0" stroke="#c0c0c0" stroke-width="0.4"/>
<polygon points="190.6,261.6 203.7,262.1 200.3,271.6 187.2,271.0" fill="#c1c1c1" stroke="#c1c1c1" stroke-width="0.4"/>
<polygon points="203.7,262.1 216.7,262.7 213.3,272.2 200.3,271.6" fill="#c1c1c1" stroke="#c1c1c1" stroke-width="0.4"/>
<polygon points="216.7,262.7 229.8,263.3 226.4,272.7 213.3,272.2" fill="#c2c2c2" stroke="#c2c2c2" stroke-width="0.4"/>
<polygon points="229.8,263.3 243.0,263.9 239.5,273.3 226.4,272.7" fill="#c3c3c3" stroke="#c3c3c3" stroke-width="0.4"/>
<polygon points="243.0,263.9 256.1,264.4 252.7,273.9 239.5,273.3" fill="#c3c3c3" stroke="#c3c3c3" stroke-width="0.4"/>
<polygon points="256.1,264.4 269.3,265.0 265.9,274.5 252.7,273.9" fill="#c4c4c4" stroke="#c4c4c4" stroke-width="0.4"/>
<polygon points="269.3,265.0 282.5,265.6 279.1,275.1 265.9,274.5" fill="#c5c5c5" stroke="#c5c5c5" stroke-width="0.4"/>
<polygon points="282.5,265.6 295.7,266.2 292.3,275.7 279.1,275.1" fill="#c5c5c5" stroke="#c5c5c5" stroke-width="0.4"/>
<polygon points="295.7,266.2 309.0,266.7 305.5,276.2 292.3,275.7" fill="#c6c6c6" stroke="#c6c6c6" stroke-width="0.4"/>
<polygon points="309.0,266.7 322.3,267.3 318.8,276.8 305.5,276.2" fill="#c7c7c7" stroke="#c7c7c7" stroke-width="0.4"/>
<polygon points="322.3,267.3 335.6,267.9 332.1,277.4 318.8,276.8" fill="#c7c7c7" stroke="#c7c7c7" stroke-width="0.4"/>
<polygon points="335.6,267.9 348.9,268.5 345.4,278.0 332.1,277.4" fill="#c8c8c8" stroke="#c8c8c8" stroke-width="0.4"/>
<polygon points="348.9,268.5 362.3,269.0 358.8,278.6 345.4,278.0" fill="#c9c9c9" stroke="#c9c9c9" stroke-width="0.4"/>
<polygon points="362.3,269.0 375.7,269.6 372.2,279.2 358.8,278.6" fill="#c9c9c9" stroke="#c9c9c9" stroke-width="0.4"/>
<polygon points="375.7,269.6 389.1,270.2 385.6,279.7 372.2,279.2" fill="#cacaca" stroke="#cacaca" stroke-width="0.4"/>
<polygon points="389.1,270.2 402.5,270.8 399.0,280.3 385.6,279.7" fill="#cbcbcb" stroke="#cbcbcb" stroke-width="0.4"/>
<polygon points="402.5,270.8 416.0,271.3 412.5,280.9 399.0,280.3" fill="#cbcbcb" stroke="#cbcbcb" stroke-width="0.4"/>
<polygon points="416.0,271.3 429.5,271.9 426.0,281.5 412.5,280.9" fill="#cccccc" stroke="#cccccc" stroke-width="0.4"/>
<polygon points="174.2,270.4 187.2,271.0 183.3,280.2 170.2,279.6" fill="#b4b4b4" stroke="#b4b4b4" stroke-width="0.4"/>
<polygon points="187.2,271.0 200.3,271.6 196.3,280.8 183.3,280.2" fill="#b5b5b5" stroke="#b5b5b5" stroke-width="0.4"/>
<polygon points="200.3,271.6 213.3,272.2 209.5,281.3 196.3,280.8" fill="#b6b6b6" stroke="#b6b6b6" stroke-width="0.4"/>
<polygon points="213.3,272.2 226.4,272.7 222.6,281.9 209.5,281.3" fill="#b7b7b7" stroke="#b7b7b7" stroke-width="0.4"/>
<polygon points="226.4,272.7 239.5,273.3 235.8,282.5 222.6,281.9" fill="#b8b8b8" stroke="#b8b8b8" stroke-width="0.4"/>
<polygon points="239.5,273.3 252.7,273.9 249.0,283.1 235.8,282.5" fill="#b8b8b8" stroke="#b8b8b8" stroke-width="0.4"/>
<polygon points="252.7,273.9 265.9,274.5 262.2,283.7 249.0,283.1" fill="#b9b9b9" stroke="#b9b9b9" stroke-width="0.4"/>
<polygon points="265.9,274.5 279.1,275.1 275.4,284.2 262.2,283.7" fill="#bababa" stroke="#bababa" stroke-width="0.4"/>
<polygon points="279.1,275.1 292.3,275.7 288.7,284.8 275.4,284.2" fill="#bbbbbb" stroke="#bbbbbb" stroke-width="0.4"/>
<polygon points="292.3,275.7 305.5,276.2 302.0,285.4 288.7,284.8" fill="#bcbcbc" stroke="#bcbcbc" stroke-width="0.4"/>
<polygon points="305.5,276.2 318.8,276.8 315.3,286.0 302.0,285.4" fill="#bdbdbd" stroke="#bdbdbd" stroke-width="0.4"/>
<polygon points="318.8,276.8 332.1,277.4 328.7,286.5 315.3,286.0" fill="#bebebe" stroke="#bebebe" stroke-width="0.4"/>
<polygon points="332.1,277.4 345.4,278.0 342.1,287.1 328.7,286.5" fill="#bfbfbf" stroke="#bfbfbf" stroke-width="0.4"/>
<polygon points="345.4,278.0 358.8,278.6 355.5,287.7 342.1,287.1" fill="#c0c0c0" stroke="#c0c0c0" stroke-width="0.4"/>
<polygon points="358.8,278.6 372.2,279.2 368.9,288.3 355.5,287.7" fill="#c0c0c0" stroke="#c0c0c0" stroke-width="0.4"/>
<polygon points="372.2,279.2 385.6,279.7 382.4,288.9 368.9,288.3" fill="#c1c1c1" stroke="#c1c1c1" stroke-width="0.4"/>
<polygon points="385.6,279.7 399.0,280.3 395.8,289.4 382.4,288.9" fill="#c2c2c2" stroke="#c2c2c2" stroke-width="0.4"/>
<polygon points="399.0,280.3 412.5,280.9 409.4,290.0 395.8,289.4" fill="#c3c3c3" stroke="#c3c3c3" stroke-width="0.4"/>
<polygon points="412.5,280.9 426.0,281.5 422.9,290.6 409.4,290.0" fill="#c4c4c4" stroke="#c4c4c4" stroke-width="0.4"/>
<polygon points="170.2,279.6 183.3,280.2 179.1,289.6 166.0,289.0" fill="#a8a8a8" stroke="#a8a8a8" stroke-width="0.4"/>
<polygon points="183.3,280.2 196.3,280.8 192.3,290.1 179.1,289.6" fill="#a9a9a9" stroke="#a9a9a9" stroke-width="0.4"/>
<polygon points="196.3,280.8 209.5,281.3 205.4,290.7 192.3,290.1" fill="#aaaaaa" stroke="#aaaaaa" stroke-width="0.4"/>
<polygon points="209.5,281.3 222.6,281.9 218.6,291.3 205.4,290.7" fill="#ababab" stroke="#ababab" stroke-width="0.4"/>
<polygon points="222.6,281.9 235.8,282.5 231.8,291.8 218.6,291.3" fill="#acacac" stroke="#acacac" stroke-width="0.4"/>
<polygon points="235.8,282.5 249.0,283.1 245.1,292.4 231.8,291.8" fill="#adadad" stroke="#adadad" stroke-width="0.4"/>
<polygon points="249.0,283.1 262.2,283.7 258.4,293.0 245.1,292.4" fill="#aeaeae" stroke="#aeaeae" stroke-width="0.4"/>
<polygon points="262.2,283.7 275.4,284.2 271.7,293.5 258.4,293.0" fill="#afafaf" stroke="#afafaf" stroke-width="0.4"/>
<polygon points="275.4,284.2 288.7,284.8 285.0,294.1 271.7,293.5" fill="#b0b0b0" stroke="#b0b0b0" stroke-width="0.4"/>
<polygon points="288.7,284.8 302.0,285.4 298.4,294.7 285.0,294.1" fill="#b1b1b1" stroke="#b1b1b1" stroke-width="0.4"/>
<polygon points="302.0,285.4 315.3,286.0 311.7,295.2 298.4,294.7" fill="#b2b2b2" stroke="#b2b2b2" stroke-width="0.4"/>
<polygon points="315.3,286.0 328.7,286.5 325.1,295.8 311.7,295.2" fill="#b3b3b3" stroke="#b3b3b3" stroke-width="0.4"/>
<polygon points="328.7,286.5 342.1,287.1 338.6,296.4 325.1,295.8" fill="#b4b4b4" stroke="#b4b4b4" stroke-width="0.4"/>
<polygon points="342.1,287.1 355.5,287.7 352.0,296.9 338.6,296.4" fill="#b5b5b5" stroke="#b5b5b5" stroke-width="0.4"/>
<polygon points="355.5,287.7 368.9,288.3 365.5,297.5 352.0,296.9" fill="#b6b6b6" stroke="#b6b6b6" stroke-width="0.4"/>
<polygon points="368.9,288.3 382.4,288.9 379.0,298.1 365.5,297.5" fill="#b7b7b7" stroke="#b7b7b7" stroke-width="0.4"/>
<polygon points="382.4,288.9 395.8,289.4 392.6,298.6 379.0,298.1" fill="#b8b8b8" stroke="#b8b8b8" stroke-width="0.4"/>
<polygon points="395.8,289.4 409.4,290.0 406.2,299.2 392.6,298.6" fill="#b9b9b9" stroke="#b9b9b9" stroke-width="0.4"/>
<polygon points="409.4,290.0 422.9,290.6 419.8,299.8 406.2,299.2" fill="#bababa" stroke="#bababa" stroke-width="0.4"/>
<polygon points="166.0,289.0 179.1,289.6 175.0,298.6 161.8,298.0" fill="#9c9c9c" stroke="#9c9c9c" stroke-width="0.4"/>
<polygon points="179.1,289.6 192.3,290.1 188.2,299.1 175.0,298.6" fill="#9d9d9d" stroke="#9d9d9d" stroke-width="0.4"/>
<polygon points="192.3,290.1 205.4,290.7 201.4,299.7 188.2,299.1" fill="#9e9e9e" stroke="#9e9e9e" stroke-width="0.4"/>
<polygon points="205.4,290.7 218.6,291.3 214.6,300.3 201.4,299.7" fill="#9f9f9f" stroke="#9f9f9f" stroke-width="0.4"/>
<polygon points="218.6,291.3 231.8,291.8 227.9,300.8 214.6,300.3" fill="#a0a0a0" stroke="#a0a0a0" stroke-width="0.4"/>
<polygon points="231.8,291.8 245.1,292.4 241.2,301.4 227.9,300.8" fill="#a1a1a1" stroke="#a1a1a1" stroke-width="0.4"/>
<polygon points="245.1,292.4 258.4,293.0 254.6,302.0 241.2,301.4" fill="#a2a2a2" stroke="#a2a2a2" stroke-width="0.4"/>
<polygon points="258.4,293.0 271.7,293.5 267.9,302.5 254.6,302.0" fill="#a3a3a3" stroke="#a3a3a3" stroke-width="0.4"/>
<polygon points="271.7,293.5 285.0,294.1 281.3,303.1 267.9,302.5" fill="#a4a4a4" stroke="#a4a4a4" stroke-width="0.4"/>
<polygon points="285.0,294.1 298.4,294.7 294.7,303.7 281.3,303.1" fill="#a5a5a5" stroke="#a5a5a5" stroke-width="0.4"/>
<polygon points="298.4,294.7 311.7,295.2 308.1,304.2 294.7,303.7" fill="#a6a6a6" stroke="#a6a6a6" stroke-width="0.4"/>
<polygon points="311.7,295.2 325.1,295.8 321.6,304.8 308.1,304.2" fill="#a7a7a7" stroke="#a7a7a7" stroke-width="0.4"/>
<polygon points="325.1,295.8 338.6,296.4 335.1,305.4 321.6,304.8" fill="#a8a8a8" stroke="#a8a8a8" stroke-width="0.4"/>
<polygon points="338.6,296.4 352.0,296.9 348.6,305.9 335.1,305.4" fill="#a9a9a9" stroke="#a9a9a9" stroke-width="0.4"/>
<polygon points="352.0,296.9 365.5,297.5 362.2,306.5 348.6,305.9" fill="#aaaaaa" stroke="#aaaaaa" stroke-width="0.4"/>
<polygon points="365.5,297.5 379.0,298.1 375.7,307.1 362.2,306.5" fill="#ababab" stroke="#ababab" stroke-width="0.4"/>
<polygon points="379.0,298.1 392.6,298.6 389.3,307.6 375.7,307.1" fill="#acacac" stroke="#acacac" stroke-width="0.4"/>
<polygon points="392.6,298.6 406.2,299.2 403.0,308.2 389.3,307.6" fill="#adadad" stroke="#adadad" stroke-width="0.4"/>
<polygon points="406.2,299.2 419.8,299.8 416.6,308.8 403.0,308.2" fill="#aeaeae" stroke="#aeaeae" stroke-width="0.4"/>
<polygon points="161.8,298.0 175.0,298.6 170.9,307.6 157.7,307.0" fill="#909090" stroke="#909090" stroke-width="0.4"/>
<polygon points="175.0,298.6 188.2,299.1 184.2,308.1 170.9,307.6" fill="#919191" stroke="#919191" stroke-width="0.4"/>
<polygon points="188.2,299.1 201.4,299.7 197.5,308.7 184.2,308.1" fill="#929292" stroke="#929292" stroke-width="0.4"/>
<polygon points="201.4,299.7 214.6,300.3 210.8,309.2 197.5,308.7" fill="#949494" stroke="#949494" stroke-width="0.4"/>
<polygon points="214.6,300.3 227.9,300.8 224.1,309.8 210.8,309.2" fill="#959595" stroke="#959595" stroke-width="0.4"/>
<polygon points="227.9,300.8 241.2,301.4 237.4,310.3 224.1,309.8" fill="#969696" stroke="#969696" stroke-width="0.4"/>
<polygon points="241.2,301.4 254.6,302.0 250.8,310.9 237.4,310.3" fill="#979797" stroke="#979797" stroke-width="0.4"/>
<polygon points="254.6,302.0 267.9,302.5 264.2,311.4 250.8,310.9" fill="#989898" stroke="#989898" stroke-width="0.4"/>
<polygon points="267.9,302.5 281.3,303.1 277.7,312.0 264.2,311.4" fill="#999999" stroke="#999999" stroke-width="0.4"/>
<polygon points="281.3,303.1 294.7,303.7 291.1,312.5 277.7,312.0" fill="#9a9a9a" stroke="#9a9a9a" stroke-width="0.4"/>
<polygon points="294.7,303.7 308.1,304.2 304.6,313.1 291.1,312.5" fill="#9c9c9c" stroke="#9c9c9c" stroke-width="0.4"/>
<polygon points="308.1,304.2 321.6,304.8 318.1,313.6 304.6,313.1" fill="#9d9d9d" stroke="#9d9d9d" stroke-width="0.4"/>
<polygon points="321.6,304.8 335.1,305.4 331.7,314.2 318.1,313.6" fill="#9e9e9e" stroke="#9e9e9e" stroke-width="0.4"/>
<polygon points="335.1,305.4 348.6,305.9 345.3,314.7 331.7,314.2" fill="#9f9f9f" stroke="#9f9f9f" stroke-width="0.4"/>
<polygon points="348.6,305.9 362.2,306.5 358.8,315.3 345.3,314.7" fill="#a0a0a0" stroke="#a0a0a0" stroke-width="0.4"/>
<polygon points="362.2,306.5 375.7,307.1 372.5,315.8 358.8,315.3" fill="#a2a2a2" stroke="#a2a2a2" stroke-width="0.4"/>
<polygon points="375.7,307.1 389.3,307.6 386.1,316.4 372.5,315.8" fill="#a3a3a3" stroke="#a3a3a3" stroke-width="0.4"/>
<polygon points="389.3,307.6 403.0,308.2 399.8,316.9 386.1,316.4" fill="#a4a4a4" stroke="#a4a4a4" stroke-width="0.4"/>
<polygon points="403.0,308.2 416.6,308.8 413.5,317.5 399.8,316.9" fill="#a5a5a5" stroke="#a5a5a5" stroke-width="0.4"/>
<polygon points="157.7,307.0 170.9,307.6 166.9,316.5 153.6,316.0" fill="#848484" stroke="#848484" stroke-width="0.4"/>
<polygon points="170.9,307.6 184.2,308.1 180.2,317.1 166.9,316.5" fill="#858585" stroke="#858585" stroke-width="0.4"/>
<polygon points="184.2,308.1 197.5,308.7 193.5,317.6 180.2,317.1" fill="#878787" stroke="#878787" stroke-width="0.4"/>
<polygon points="197.5,308.7 210.8,309.2 206.9,318.2 193.5,317.6" fill="#888888" stroke="#888888" stroke-width="0.4"/>
<polygon points="210.8,309.2 224.1,309.8 220.2,318.7 206.9,318.2" fill="#898989" stroke="#898989" stroke-width="0.4"/>
<polygon points="224.1,309.8 237.4,310.3 233.7,319.2 220.2,318.7" fill="#8a8a8a" stroke="#8a8a8a" stroke-width="0.4"/>
<polygon points="237.4,310.3 250.8,310.9 247.1,319.8 233.7,319.2" fill="#8c8c8c" stroke="#8c8c8c" stroke-width="0.4"/>
<polygon points="250.8,310.9 264.2,311.4 260.6,320.3 247.1,319.8" fill="#8d8d8d" stroke="#8d8d8d" stroke-width="0.4"/>
<polygon points="264.2,311.4 277.7,312.0 274.0,320.9 260.6,320.3" fill="#8e8e8e" stroke="#8e8e8e" stroke-width="0.4"/>
<polygon points="277.7,312.0 291.1,312.5 287.6,321.4 274.0,320.9" fill="#909090" stroke="#909090" stroke-width="0.4"/>
<polygon points="291.1,312.5 304.6,313.1 301.1,321.9 287.6,321.4" fill="#919191" stroke="#919191" stroke-width="0.4"/>
<polygon points="304.6,313.1 318.1,313.6 314.7,322.5 301.1,321.9" fill="#929292" stroke="#929292" stroke-width="0.4"/>
<polygon points="318.1,313.6 331.7,314.2 328.3,323.0 314.7,322.5" fill="#939393" stroke="#939393" stroke-width="0.4"/>
<polygon points="331.7,314.2 345.3,314.7 341.9,323.6 328.3,323.0" fill="#959595" stroke="#959595" stroke-width="0.4"/>
<polygon points="345.3,314.7 358.8,315.3 355.5,324.1 341.9,323.6" fill="#969696" stroke="#969696" stroke-width="0.4"/>
<polygon points="358.8,315.3 372.5,315.8 369.2,324.6 355.5,324.1" fill="#979797" stroke="#979797" stroke-width="0.4"/>
<polygon points="372.5,315.8 386.1,316.4 382.9,325.2 369.2,324.6" fill="#989898" stroke="#989898" stroke-width="0.4"/>
<polygon points="386.1,316.4 399.8,316.9 396.6,325.7 382.9,325.2" fill="#9a9a9a" stroke="#9a9a9a" stroke-width="0.4"/>
<polygon points="399.8,316.9 413.5,317.5 410.4,326.2 396.6,325.7" fill="#9b9b9b" stroke="#9b9b9b" stroke-width="0.4"/>
<polygon points="153.6,316.0 166.9,316.5 162.7,325.5 149.4,325.0" fill="#787878" stroke="#787878" stroke-width="0.4"/>
<polygon points="166.9,316.5 180.2,317.1 176.1,326.0 162.7,325.5" fill="#797979" stroke="#797979" stroke-width="0.4"/>
<polygon points="180.2,317.1 193.5,317.6 189.5,326.5 176.1,326.0" fill="#7b7b7b" stroke="#7b7b7b" stroke-width="0.4"/>
<polygon points="193.5,317.6 206.9,318.2 202.9,327.1 189.5,326.5" fill="#7c7c7c" stroke="#7c7c7c" stroke-width="0.4"/>
<polygon points="206.9,318.2 220.2,318.7 216.3,327.6 202.9,327.1" fill="#7e7e7e" stroke="#7e7e7e" stroke-width="0.4"/>
<polygon points="220.2,318.7 233.7,319.2 229.8,328.1 216.3,327.6" fill="#7f7f7f" stroke="#7f7f7f" stroke-width="0.4"/>
<polygon points="233.7,319.2 247.1,319.8 243.3,328.6 229.8,328.1" fill="#818181" stroke="#818181" stroke-width="0.4"/>
<polygon points="247.1,319.8 260.6,320.3 256.8,329.1 243.3,328.6" fill="#828282" stroke="#828282" stroke-width="0.4"/>
<polygon points="260.6,320.3 274.0,320.9 270.3,329.6 256.8,329.1" fill="#848484" stroke="#848484" stroke-width="0.4"/>
<polygon points="274.0,320.9 287.6,321.4 283.9,330.1 270.3,329.6" fill="#858585" stroke="#858585" stroke-width="0.4"/>
<polygon points="287.6,321.4 301.1,321.9 297.5,330.6 283.9,330.1" fill="#868686" stroke="#868686" stroke-width="0.4"/>
<polygon points="301.1,321.9 314.7,322.5 311.1,331.2 297.5,330.6" fill="#888888" stroke="#888888" stroke-width="0.4"/>
<polygon points="314.7,322.5 328.3,323.0 324.8,331.7 311.1,331.2" fill="#898989" stroke="#898989" stroke-width="0.4"/>
<polygon points="328.3,323.0 341.9,323.6 338.5,332.2 324.8,331.7" fill="#8b8b8b" stroke="#8b8b8b" stroke-width="0.4"/>
<polygon points="341.9,323.6 355.5,324.1 352.2,332.7 338.5,332.2" fill="#8c8c8c" stroke="#8c8c8c" stroke-width="0.4"/>
<polygon points="355.5,324.1 369.2,324.6 365.9,333.2 352.2,332.7" fill="#8e8e8e" stroke="#8e8e8e" stroke-width="0.4"/>
<polygon points="369.2,324.6 382.9,325.2 379.7,333.7 365.9,333.2" fill="#8f8f8f" stroke="#8f8f8f" stroke-width="0.4"/>
<polygon points="382.9,325.2 396.6,325.7 393.4,334.2 379.7,333.7" fill="#919191" stroke="#919191" stroke-width="0.4"/>
<polygon points="396.6,325.7 410.4,326.2 407.2,334.8 393.4,334.2" fill="#929292" stroke="#929292" stroke-width="0.4"/>
<polygon points="149.4,325.0 162.7,325.5 159.3,334.5 146.0,334.0" fill="#6c6c6c" stroke="#6c6c6c" stroke-width="0.4"/>
<polygon points="162.7,325.5 176.1,326.0 172.7,334.9 159.3,334.5" fill="#6e6e6e" stroke="#6e6e6e" stroke-width="0.4"/>
<polygon points="176.1,326.0 189.5,326.5 186.1,335.4 172.7,334.9" fill="#6f6f6f" stroke="#6f6f6f" stroke-width="0.4"/>
<polygon points="189.5,326.5 202.9,327.1 199.5,335.9 186.1,335.4" fill="#717171" stroke="#717171" stroke-width="0.4"/>
<polygon points="202.9,327.1 216.3,327.6 213.0,336.4 199.5,335.9" fill="#727272" stroke="#727272" stroke-width="0.4"/>
<polygon points="216.3,327.6 229.8,328.1 226.4,336.8 213.0,336.4" fill="#747474" stroke="#747474" stroke-width="0.4"/>
<polygon points="229.8,328.1 243.3,328.6 239.9,337.3 226.4,336.8" fill="#757575" stroke="#757575" stroke-width="0.4"/>
<polygon points="243.3,328.6 256.8,329.1 253.5,337.8 239.9,337.3" fill="#777777" stroke="#777777" stroke-width="0.4"/>
<polygon points="256.8,329.1 270.3,329.6 267.0,338.3 253.5,337.8" fill="#787878" stroke="#787878" stroke-width="0.4"/>
<polygon points="270.3,329.6 283.9,330.1 280.6,338.7 267.0,338.3" fill="#7a7a7a" stroke="#7a7a7a" stroke-width="0.4"/>
<polygon points="283.9,330.1 297.5,330.6 294.2,339.2 280.6,338.7" fill="#7c7c7c" stroke="#7c7c7c" stroke-width="0.4"/>
<polygon points="297.5,330.6 311.1,331.2 307.8,339.7 294.2,339.2" fill="#7d7d7d" stroke="#7d7d7d" stroke-width="0.4"/>
<polygon points="311.1,331.2 324.8,331.7 321.5,340.2 307.8,339.7" fill="#7f7f7f" stroke="#7f7f7f" stroke-width="0.4"/>
<polygon points="324.8,331.7 338.5,332.2 335.2,340.6 321.5,340.2" fill="#808080" stroke="#808080" stroke-width="0.4"/>
<polygon points="338.5,332.2 352.2,332.7 348.9,341.1 335.2,340.6" fill="#828282" stroke="#828282" stroke-width="0.4"/>
<polygon points="352.2,332.7 365.9,333.2 362.6,341.6 348.9,341.1" fill="#838383" stroke="#838383" stroke-width="0.4"/>
<polygon points="365.9,333.2 379.7,333.7 376.4,342.1 362.6,341.6" fill="#858585" stroke="#858585" stroke-width="0.4"/>
<polygon points="379.7,333.7 393.4,334.2 390.2,342.5 376.4,342.1" fill="#868686" stroke="#868686" stroke-width="0.4"/>
<polygon points="393.4,334.2 407.2,334.8 404.0,343.0 390.2,342.5" fill="#888888" stroke="#888888" stroke-width="0.4"/>
<g stroke-width="1.2" stroke-linecap="round" fill="none">
<line x1="211.0" y1="153.6" x2="293.0" y2="157.7" stroke="#6f6f6f"/>
<line x1="293.0" y1="157.7" x2="375.0" y2="161.9" stroke="#707070"/>
<line x1="375.0" y1="161.9" x2="457.0" y2="166.0" stroke="#707070"/>
<line x1="207.9" y1="169.4" x2="289.9" y2="173.5" stroke="#737373"/>
<line x1="289.9" y1="173.5" x2="372.0" y2="177.5" stroke="#737373"/>
<line x1="372.0" y1="177.5" x2="454.0" y2="181.6" stroke="#737373"/>
<line x1="204.6" y1="184.0" x2="286.7" y2="187.9" stroke="#747474"/>
<line x1="286.7" y1="187.9" x2="368.9" y2="191.7" stroke="#747474"/>
<line x1="368.9" y1="191.7" x2="451.0" y2="195.6" stroke="#747474"/>
<line x1="201.4" y1="196.4" x2="283.6" y2="200.3" stroke="#757575"/>
<line x1="283.6" y1="200.3" x2="365.8" y2="204.1" stroke="#767676"/>
<line x1="365.8" y1="204.1" x2="448.0" y2="208.0" stroke="#767676"/>
<line x1="198.0" y1="208.0" x2="280.3" y2="212.2" stroke="#747474"/>
<line x1="280.3" y1="212.2" x2="362.7" y2="216.4" stroke="#747474"/>
<line x1="362.7" y1="216.4" x2="445.0" y2="220.6" stroke="#757575"/>
<line x1="194.1" y1="219.0" x2="276.6" y2="223.1" stroke="#737373"/>
<line x1="276.6" y1="223.1" x2="359.1" y2="227.2" stroke="#747474"/>
<line x1="359.1" y1="227.2" x2="441.6" y2="231.2" stroke="#747474"/>
<line x1="189.7" y1="230.0" x2="272.6" y2="233.8" stroke="#717171"/>
<line x1="272.6" y1="233.8" x2="355.6" y2="237.7" stroke="#727272"/>
<line x1="355.6" y1="237.7" x2="438.5" y2="241.5" stroke="#737373"/>
<line x1="185.4" y1="241.0" x2="268.9" y2="244.6" stroke="#707070"/>
<line x1="268.9" y1="244.6" x2="352.3" y2="248.3" stroke="#717171"/>
<line x1="352.3" y1="248.3" x2="435.8" y2="251.9" stroke="#727272"/>
<line x1="180.8" y1="251.0" x2="264.8" y2="254.6" stroke="#6e6e6e"/>
<line x1="264.8" y1="254.6" x2="348.9" y2="258.3" stroke="#6e6e6e"/>
<line x1="348.9" y1="258.3" x2="432.9" y2="261.9" stroke="#707070"/>
<line x1="177.6" y1="261.0" x2="261.6" y2="264.6" stroke="#6b6b6b"/>
<line x1="261.6" y1="264.6" x2="345.5" y2="268.3" stroke="#6c6c6c"/>
<line x1="345.5" y1="268.3" x2="429.5" y2="271.9" stroke="#6d6d6d"/>
<line x1="174.2" y1="270.4" x2="258.1" y2="274.1" stroke="#676767"/>
<line x1="258.1" y1="274.1" x2="342.1" y2="277.8" stroke="#696969"/>
<line x1="342.1" y1="277.8" x2="426.0" y2="281.5" stroke="#6b6b6b"/>
<line x1="170.2" y1="279.6" x2="254.4" y2="283.3" stroke="#636363"/>
<line x1="254.4" y1="283.3" x2="338.7" y2="286.9" stroke="#656565"/>
<line x1="338.7" y1="286.9" x2="422.9" y2="290.6" stroke="#676767"/>
<line x1="166.0" y1="289.0" x2="250.6" y2="292.6" stroke="#6b6b6b"/>
<line x1="250.6" y1="292.6" x2="335.2" y2="296.2" stroke="#717171"/>
<line x1="335.2" y1="296.2" x2="419.8" y2="299.8" stroke="#777777"/>
<line x1="161.8" y1="298.0" x2="246.7" y2="301.6" stroke="#6a6a6a"/>
<line x1="246.7" y1="301.6" x2="331.7" y2="305.2" stroke="#707070"/>
<line x1="331.7" y1="305.2" x2="416.6" y2="308.8" stroke="#787878"/>
<line x1="157.7" y1="307.0" x2="243.0" y2="310.5" stroke="#686868"/>
<line x1="243.0" y1="310.5" x2="328.2" y2="314.0" stroke="#707070"/>
<line x1="328.2" y1="314.0" x2="413.5" y2="317.5" stroke="#777777"/>
<line x1="153.6" y1="316.0" x2="239.2" y2="319.4" stroke="#646464"/>
<line x1="239.2" y1="319.4" x2="324.8" y2="322.8" stroke="#6d6d6d"/>
<line x1="324.8" y1="322.8" x2="410.4" y2="326.2" stroke="#767676"/>
<line x1="149.4" y1="325.0" x2="235.3" y2="328.2" stroke="#636363"/>
<line x1="235.3" y1="328.2" x2="321.3" y2="331.5" stroke="#6c6c6c"/>
<line x1="321.3" y1="331.5" x2="407.2" y2="334.8" stroke="#757575"/>
<line x1="146.0" y1="334.0" x2="232.0" y2="337.0" stroke="#5f5f5f"/>
<line x1="232.0" y1="337.0" x2="318.0" y2="340.0" stroke="#626262"/>
<line x1="318.0" y1="340.0" x2="404.0" y2="343.0" stroke="#656565"/>
<line x1="215.0" y1="134.8" x2="211.0" y2="153.6" stroke="#686868"/>
<line x1="211.0" y1="153.6" x2="207.9" y2="169.4" stroke="#6f6f6f"/>
<line x1="207.9" y1="169.4" x2="204.6" y2="184.0" stroke="#737373"/>
<line x1="204.6" y1="184.0" x2="201.4" y2="196.4" stroke="#747474"/>
<line x1="201.4" y1="196.4" x2="198.0" y2="208.0" stroke="#757575"/>
<line x1="198.0" y1="208.0" x2="194.1" y2="219.0" stroke="#747474"/>
<line x1="194.1" y1="219.0" x2="189.7" y2="230.0" stroke="#737373"/>
<line x1="189.7" y1="230.0" x2="185.4" y2="241.0" stroke="#717171"/>
<line x1="185.4" y1="241.0" x2="180.8" y2="251.0" stroke="#707070"/>
<line x1="180.8" y1="251.0" x2="177.6" y2="261.0" stroke="#6d6d6d"/>
<line x1="177.6" y1="261.0" x2="174.2" y2="270.4" stroke="#6a6a6a"/>
<line x1="174.2" y1="270.4" x2="170.2" y2="279.6" stroke="#666666"/>
<line x1="170.2" y1="279.6" x2="166.0" y2="289.0" stroke="#626262"/>
<line x1="166.0" y1="289.0" x2="161.8" y2="298.0" stroke="#686868"/>
<line x1="161.8" y1="298.0" x2="157.7" y2="307.0" stroke="#666666"/>
<line x1="157.7" y1="307.0" x2="153.6" y2="316.0" stroke="#646464"/>
<line x1="153.6" y1="316.0" x2="149.4" y2="325.0" stroke="#606060"/>
<line x1="149.4" y1="325.0" x2="146.0" y2="334.0" stroke="#5e5e5e"/>
<line x1="227.5" y1="135.4" x2="223.5" y2="154.3" stroke="#686868"/>
<line x1="223.5" y1="154.3" x2="220.5" y2="170.0" stroke="#6f6f6f"/>
<line x1="220.5" y1="170.0" x2="217.2" y2="184.6" stroke="#737373"/>
<line x1="217.2" y1="184.6" x2="214.1" y2="197.0" stroke="#747474"/>
<line x1="214.1" y1="197.0" x2="210.8" y2="208.7" stroke="#757575"/>
<line x1="210.8" y1="208.7" x2="206.9" y2="219.6" stroke="#747474"/>
<line x1="206.9" y1="219.6" x2="202.6" y2="230.6" stroke="#737373"/>
<line x1="202.6" y1="230.6" x2="198.3" y2="241.6" stroke="#717171"/>
<line x1="198.3" y1="241.6" x2="193.8" y2="251.6" stroke="#707070"/>
<line x1="193.8" y1="251.6" x2="190.6" y2="261.6" stroke="#6d6d6d"/>
<line x1="190.6" y1="261.6" x2="187.2" y2="271.0" stroke="#6b6b6b"/>
<line x1="187.2" y1="271.0" x2="183.3" y2="280.2" stroke="#676767"/>
<line x1="183.3" y1="280.2" x2="179.1" y2="289.6" stroke="#626262"/>
<line x1="179.1" y1="289.6" x2="175.0" y2="298.6" stroke="#696969"/>
<line x1="175.0" y1="298.6" x2="170.9" y2="307.6" stroke="#676767"/>
<line x1="170.9" y1="307.6" x2="166.9" y2="316.5" stroke="#656565"/>
<line x1="166.9" y1="316.5" x2="162.7" y2="325.5" stroke="#616161"/>
<line x1="162.7" y1="325.5" x2="159.3" y2="334.5" stroke="#606060"/>
<line x1="240.1" y1="136.1" x2="236.1" y2="154.9" stroke="#686868"/>
<line x1="236.1" y1="154.9" x2="233.1" y2="170.7" stroke="#6f6f6f"/>
<line x1="233.1" y1="170.7" x2="229.9" y2="185.2" stroke="#737373"/>
<line x1="229.9" y1="185.2" x2="226.8" y2="197.6" stroke="#747474"/>
<line x1="226.8" y1="197.6" x2="223.5" y2="209.3" stroke="#757575"/>
<line x1="223.5" y1="209.3" x2="219.7" y2="220.3" stroke="#747474"/>
<line x1="219.7" y1="220.3" x2="215.4" y2="231.2" stroke="#737373"/>
<line x1="215.4" y1="231.2" x2="211.3" y2="242.1" stroke="#727272"/>
<line x1="211.3" y1="242.1" x2="206.9" y2="252.1" stroke="#707070"/>
<line x1="206.9" y1="252.1" x2="203.7" y2="262.1" stroke="#6d6d6d"/>
<line x1="203.7" y1="262.1" x2="200.3" y2="271.6" stroke="#6b6b6b"/>
<line x1="200.3" y1="271.6" x2="196.3" y2="280.8" stroke="#676767"/>
<line x1="196.3" y1="280.8" x2="192.3" y2="290.1" stroke="#636363"/>
<line x1="192.3" y1="290.1" x2="188.2" y2="299.1" stroke="#6a6a6a"/>
<line x1="188.2" y1="299.1" x2="184.2" y2="308.1" stroke="#686868"/>
<line x1="184.2" y1="308.1" x2="180.2" y2="317.1" stroke="#676767"/>
<line x1="180.2" y1="317.1" x2="176.1" y2="326.0" stroke="#636363"/>
<line x1="176.1" y1="326.0" x2="172.7" y2="334.9" stroke="#616161"/>
<line x1="252.7" y1="136.7" x2="248.7" y2="155.6" stroke="#686868"/>
<line x1="248.7" y1="155.6" x2="245.7" y2="171.3" stroke="#6f6f6f"/>
<line x1="245.7" y1="171.3" x2="242.7" y2="185.8" stroke="#737373"/>
<line x1="242.7" y1="185.8" x2="239.6" y2="198.2" stroke="#747474"/>
<line x1="239.6" y1="198.2" x2="236.4" y2="210.0" stroke="#757575"/>
<line x1="236.4" y1="210.0" x2="232.5" y2="220.9" stroke="#747474"/>
<line x1="232.5" y1="220.9" x2="228.3" y2="231.8" stroke="#737373"/>
<line x1="228.3" y1="231.8" x2="224.3" y2="242.7" stroke="#727272"/>
<line x1="224.3" y1="242.7" x2="220.0" y2="252.7" stroke="#707070"/>
<line x1="220.0" y1="252.7" x2="216.7" y2="262.7" stroke="#6e6e6e"/>
<line x1="216.7" y1="262.7" x2="213.3" y2="272.2" stroke="#6b6b6b"/>
<line x1="213.3" y1="272.2" x2="209.5" y2="281.3" stroke="#676767"/>
<line x1="209.5" y1="281.3" x2="205.4" y2="290.7" stroke="#636363"/>
<line x1="205.4" y1="290.7" x2="201.4" y2="299.7" stroke="#6b6b6b"/>
<line x1="201.4" y1="299.7" x2="197.5" y2="308.7" stroke="#6a6a6a"/>
<line x1="197.5" y1="308.7" x2="193.5" y2="317.6" stroke="#686868"/>
<line x1="193.5" y1="317.6" x2="189.5" y2="326.5" stroke="#646464"/>
<line x1="189.5" y1="326.5" x2="186.1" y2="335.4" stroke="#636363"/>
<line x1="265.3" y1="137.4" x2="261.3" y2="156.2" stroke="#676767"/>
<line x1="261.3" y1="156.2" x2="258.4" y2="172.0" stroke="#6f6f6f"/>
<line x1="258.4" y1="172.0" x2="255.4" y2="186.4" stroke="#737373"/>
<line x1="255.4" y1="186.4" x2="252.4" y2="198.8" stroke="#747474"/>
<line x1="252.4" y1="198.8" x2="249.2" y2="210.7" stroke="#757575"/>
<line x1="249.2" y1="210.7" x2="245.4" y2="221.6" stroke="#747474"/>
<line x1="245.4" y1="221.6" x2="241.3" y2="232.4" stroke="#737373"/>
<line x1="241.3" y1="232.4" x2="237.3" y2="243.3" stroke="#727272"/>
<line x1="237.3" y1="243.3" x2="233.1" y2="253.3" stroke="#707070"/>
<line x1="233.1" y1="253.3" x2="229.8" y2="263.3" stroke="#6e6e6e"/>
<line x1="229.8" y1="263.3" x2="226.4" y2="272.7" stroke="#6b6b6b"/>
<line x1="226.4" y1="272.7" x2="222.6" y2="281.9" stroke="#686868"/>
<line x1="222.6" y1="281.9" x2="218.6" y2="291.3" stroke="#636363"/>
<line x1="218.6" y1="291.3" x2="214.6" y2="300.3" stroke="#6c6c6c"/>
<line x1="214.6" y1="300.3" x2="210.8" y2="309.2" stroke="#6b6b6b"/>
<line x1="210.8" y1="309.2" x2="206.9" y2="318.2" stroke="#696969"/>
<line x1="206.9" y1="318.2" x2="202.9" y2="327.1" stroke="#666666"/>
<line x1="202.9" y1="327.1" x2="199.5" y2="335.9" stroke="#646464"/>
<line x1="278.0" y1="138.0" x2="274.0" y2="156.9" stroke="#676767"/>
<line x1="274.0" y1="156.9" x2="271.2" y2="172.6" stroke="#6f6f6f"/>
<line x1="271.2" y1="172.6" x2="268.2" y2="187.1" stroke="#737373"/>
<line x1="268.2" y1="187.1" x2="265.2" y2="199.5" stroke="#747474"/>
<line x1="265.2" y1="199.5" x2="262.1" y2="211.3" stroke="#757575"/>
<line x1="262.1" y1="211.3" x2="258.3" y2="222.2" stroke="#747474"/>
<line x1="258.3" y1="222.2" x2="254.2" y2="233.0" stroke="#737373"/>
<line x1="254.2" y1="233.0" x2="250.4" y2="243.9" stroke="#727272"/>
<line x1="250.4" y1="243.9" x2="246.2" y2="253.9" stroke="#707070"/>
<line x1="246.2" y1="253.9" x2="243.0" y2="263.9" stroke="#6e6e6e"/>
<line x1="243.0" y1="263.9" x2="239.5" y2="273.3" stroke="#6b6b6b"/>
<line x1="239.5" y1="273.3" x2="235.8" y2="282.5" stroke="#686868"/>
<line x1="235.8" y1="282.5" x2="231.8" y2="291.8" stroke="#646464"/>
<line x1="231.8" y1="291.8" x2="227.9" y2="300.8" stroke="#6d6d6d"/>
<line x1="227.9" y1="300.8" x2="224.1" y2="309.8" stroke="#6c6c6c"/>
<line x1="224.1" y1="309.8" x2="220.2" y2="318.7" stroke="#6a6a6a"/>
<line x1="220.2" y1="318.7" x2="216.3" y2="327.6" stroke="#676767"/>
<line x1="216.3" y1="327.6" x2="213.0" y2="336.4" stroke="#666666"/>
<line x1="290.8" y1="138.7" x2="286.8" y2="157.5" stroke="#676767"/>
<line x1="286.8" y1="157.5" x2="284.0" y2="173.3" stroke="#6f6f6f"/>
<line x1="284.0" y1="173.3" x2="281.0" y2="187.7" stroke="#737373"/>
<line x1="281.0" y1="187.7" x2="278.1" y2="200.1" stroke="#747474"/>
<line x1="278.1" y1="200.1" x2="275.0" y2="212.0" stroke="#757575"/>
<line x1="275.0" y1="212.0" x2="271.2" y2="222.9" stroke="#747474"/>
<line x1="271.2" y1="222.9" x2="267.2" y2="233.6" stroke="#737373"/>
<line x1="267.2" y1="233.6" x2="263.4" y2="244.4" stroke="#727272"/>
<line x1="263.4" y1="244.4" x2="259.4" y2="254.4" stroke="#707070"/>
<line x1="259.4" y1="254.4" x2="256.1" y2="264.4" stroke="#6e6e6e"/>
<line x1="256.1" y1="264.4" x2="252.7" y2="273.9" stroke="#6c6c6c"/>
<line x1="252.7" y1="273.9" x2="249.0" y2="283.1" stroke="#686868"/>
<line x1="249.0" y1="283.1" x2="245.1" y2="292.4" stroke="#646464"/>
<line x1="245.1" y1="292.4" x2="241.2" y2="301.4" stroke="#6e6e6e"/>
<line x1="241.2" y1="301.4" x2="237.4" y2="310.3" stroke="#6d6d6d"/>
<line x1="237.4" y1="310.3" x2="233.7" y2="319.2" stroke="#6c6c6c"/>
<line x1="233.7" y1="319.2" x2="229.8" y2="328.1" stroke="#696969"/>
<line x1="229.8" y1="328.1" x2="226.4" y2="336.8" stroke="#676767"/>
<line x1="303.6" y1="139.3" x2="299.6" y2="158.2" stroke="#676767"/>
<line x1="299.6" y1="158.2" x2="296.8" y2="173.9" stroke="#6f6f6f"/>
<line x1="296.8" y1="173.9" x2="293.9" y2="188.3" stroke="#737373"/>
<line x1="293.9" y1="188.3" x2="290.9" y2="200.7" stroke="#747474"/>
<line x1="290.9" y1="200.7" x2="287.9" y2="212.6" stroke="#757575"/>
<line x1="287.9" y1="212.6" x2="284.2" y2="223.5" stroke="#747474"/>
<line x1="284.2" y1="223.5" x2="280.2" y2="234.2" stroke="#737373"/>
<line x1="280.2" y1="234.2" x2="276.5" y2="245.0" stroke="#727272"/>
<line x1="276.5" y1="245.0" x2="272.6" y2="255.0" stroke="#707070"/>
<line x1="272.6" y1="255.0" x2="269.3" y2="265.0" stroke="#6e6e6e"/>
<line x1="269.3" y1="265.0" x2="265.9" y2="274.5" stroke="#6c6c6c"/>
<line x1="265.9" y1="274.5" x2="262.2" y2="283.7" stroke="#686868"/>
<line x1="262.2" y1="283.7" x2="258.4" y2="293.0" stroke="#646464"/>
<line x1="258.4" y1="293.0" x2="254.6" y2="302.0" stroke="#6f6f6f"/>
<line x1="254.6" y1="302.0" x2="250.8" y2="310.9" stroke="#6e6e6e"/>
<line x1="250.8" y1="310.9" x2="247.1" y2="319.8" stroke="#6d6d6d"/>
<line x1="247.1" y1="319.8" x2="243.3" y2="328.6" stroke="#6a6a6a"/>
<line x1="243.3" y1="328.6" x2="239.9" y2="337.3" stroke="#696969"/>
<line x1="316.4" y1="139.9" x2="312.4" y2="158.8" stroke="#676767"/>
<line x1="312.4" y1="158.8" x2="309.7" y2="174.5" stroke="#6f6f6f"/>
<line x1="309.7" y1="174.5" x2="306.8" y2="188.9" stroke="#737373"/>
<line x1="306.8" y1="188.9" x2="303.9" y2="201.3" stroke="#747474"/>
<line x1="303.9" y1="201.3" x2="300.8" y2="213.3" stroke="#757575"/>
<line x1="300.8" y1="213.3" x2="297.1" y2="224.2" stroke="#747474"/>
<line x1="297.1" y1="224.2" x2="293.3" y2="234.8" stroke="#737373"/>
<line x1="293.3" y1="234.8" x2="289.6" y2="245.6" stroke="#727272"/>
<line x1="289.6" y1="245.6" x2="285.8" y2="255.6" stroke="#717171"/>
<line x1="285.8" y1="255.6" x2="282.5" y2="265.6" stroke="#6e6e6e"/>
<line x1="282.5" y1="265.6" x2="279.1" y2="275.1" stroke="#6c6c6c"/>
<line x1="279.1" y1="275.1" x2="275.4" y2="284.2" stroke="#696969"/>
<line x1="275.4" y1="284.2" x2="271.7" y2="293.5" stroke="#656565"/>
<line x1="271.7" y1="293.5" x2="267.9" y2="302.5" stroke="#707070"/>
<line x1="267.9" y1="302.5" x2="264.2" y2="311.4" stroke="#6f6f6f"/>
<line x1="264.2" y1="311.4" x2="260.6" y2="320.3" stroke="#6e6e6e"/>
<line x1="260.6" y1="320.3" x2="256.8" y2="329.1" stroke="#6c6c6c"/>
<line x1="256.8" y1="329.1" x2="253.5" y2="337.8" stroke="#6a6a6a"/>
<line x1="329.3" y1="140.6" x2="325.3" y2="159.5" stroke="#666666"/>
<line x1="325.3" y1="159.5" x2="322.6" y2="175.2" stroke="#707070"/>
<line x1="322.6" y1="175.2" x2="319.7" y2="189.5" stroke="#737373"/>
<line x1="319.7" y1="189.5" x2="316.8" y2="201.9" stroke="#747474"/>
<line x1="316.8" y1="201.9" x2="313.8" y2="214.0" stroke="#757575"/>
<line x1="313.8" y1="214.0" x2="310.1" y2="224.8" stroke="#747474"/>
<line x1="310.1" y1="224.8" x2="306.4" y2="235.4" stroke="#747474"/>
<line x1="306.4" y1="235.4" x2="302.8" y2="246.2" stroke="#727272"/>
<line x1="302.8" y1="246.2" x2="299.0" y2="256.2" stroke="#717171"/>
<line x1="299.0" y1="256.2" x2="295.7" y2="266.2" stroke="#6f6f6f"/>
<line x1="295.7" y1="266.2" x2="292.3" y2="275.7" stroke="#6c6c6c"/>
<line x1="292.3" y1="275.7" x2="288.7" y2="284.8" stroke="#696969"/>
<line x1="288.7" y1="284.8" x2="285.0" y2="294.1" stroke="#656565"/>
<line x1="285.0" y1="294.1" x2="281.3" y2="303.1" stroke="#717171"/>
<line x1="281.3" y1="303.1" x2="277.7" y2="312.0" stroke="#707070"/>
<line x1="277.7" y1="312.0" x2="274.0" y2="320.9" stroke="#707070"/>
<line x1="274.0" y1="320.9" x2="270.3" y2="329.6" stroke="#6d6d6d"/>
<line x1="270.3" y1="329.6" x2="267.0" y2="338.3" stroke="#6c6c6c"/>
<line x1="342.3" y1="141.2" x2="338.3" y2="160.1" stroke="#666666"/>
<line x1="338.3" y1="160.1" x2="335.5" y2="175.8" stroke="#707070"/>
<line x1="335.5" y1="175.8" x2="332.7" y2="190.1" stroke="#737373"/>
<line x1="332.7" y1="190.1" x2="329.8" y2="202.5" stroke="#747474"/>
<line x1="329.8" y1="202.5" x2="326.8" y2="214.6" stroke="#757575"/>
<line x1="326.8" y1="214.6" x2="323.2" y2="225.4" stroke="#747474"/>
<line x1="323.2" y1="225.4" x2="319.5" y2="236.1" stroke="#747474"/>
<line x1="319.5" y1="236.1" x2="316.0" y2="246.7" stroke="#727272"/>
<line x1="316.0" y1="246.7" x2="312.3" y2="256.7" stroke="#717171"/>
<line x1="312.3" y1="256.7" x2="309.0" y2="266.7" stroke="#6f6f6f"/>
<line x1="309.0" y1="266.7" x2="305.5" y2="276.2" stroke="#6d6d6d"/>
<line x1="305.5" y1="276.2" x2="302.0" y2="285.4" stroke="#696969"/>
<line x1="302.0" y1="285.4" x2="298.4" y2="294.7" stroke="#666666"/>
<line x1="298.4" y1="294.7" x2="294.7" y2="303.7" stroke="#727272"/>
<line x1="294.7" y1="303.7" x2="291.1" y2="312.5" stroke="#727272"/>
<line x1="291.1" y1="312.5" x2="287.6" y2="321.4" stroke="#717171"/>
<line x1="287.6" y1="321.4" x2="283.9" y2="330.1" stroke="#6e6e6e"/>
<line x1="283.9" y1="330.1" x2="280.6" y2="338.7" stroke="#6e6e6e"/>
<line x1="355.3" y1="141.9" x2="351.3" y2="160.8" stroke="#666666"/>
<line x1="351.3" y1="160.8" x2="348.5" y2="176.5" stroke="#707070"/>
<line x1="348.5" y1="176.5" x2="345.7" y2="190.7" stroke="#737373"/>
<line x1="345.7" y1="190.7" x2="342.8" y2="203.1" stroke="#747474"/>
<line x1="342.8" y1="203.1" x2="339.8" y2="215.3" stroke="#757575"/>
<line x1="339.8" y1="215.3" x2="336.2" y2="226.1" stroke="#747474"/>
<line x1="336.2" y1="226.1" x2="332.6" y2="236.7" stroke="#747474"/>
<line x1="332.6" y1="236.7" x2="329.2" y2="247.3" stroke="#727272"/>
<line x1="329.2" y1="247.3" x2="325.6" y2="257.3" stroke="#717171"/>
<line x1="325.6" y1="257.3" x2="322.3" y2="267.3" stroke="#6f6f6f"/>
<line x1="322.3" y1="267.3" x2="318.8" y2="276.8" stroke="#6d6d6d"/>
<line x1="318.8" y1="276.8" x2="315.3" y2="286.0" stroke="#6a6a6a"/>
<line x1="315.3" y1="286.0" x2="311.7" y2="295.2" stroke="#666666"/>
<line x1="311.7" y1="295.2" x2="308.1" y2="304.2" stroke="#737373"/>
<line x1="308.1" y1="304.2" x2="304.6" y2="313.1" stroke="#737373"/>
<line x1="304.6" y1="313.1" x2="301.1" y2="321.9" stroke="#727272"/>
<line x1="301.1" y1="321.9" x2="297.5" y2="330.6" stroke="#707070"/>
<line x1="297.5" y1="330.6" x2="294.2" y2="339.2" stroke="#6f6f6f"/>
<line x1="368.3" y1="142.5" x2="364.3" y2="161.4" stroke="#666666"/>
<line x1="364.3" y1="161.4" x2="361.6" y2="177.1" stroke="#707070"/>
<line x1="361.6" y1="177.1" x2="358.7" y2="191.3" stroke="#737373"/>
<line x1="358.7" y1="191.3" x2="355.8" y2="203.7" stroke="#747474"/>
<line x1="355.8" y1="203.7" x2="352.9" y2="216.0" stroke="#757575"/>
<line x1="352.9" y1="216.0" x2="349.3" y2="226.7" stroke="#757575"/>
<line x1="349.3" y1="226.7" x2="345.7" y2="237.3" stroke="#747474"/>
<line x1="345.7" y1="237.3" x2="342.4" y2="247.9" stroke="#727272"/>
<line x1="342.4" y1="247.9" x2="338.9" y2="257.9" stroke="#717171"/>
<line x1="338.9" y1="257.9" x2="335.6" y2="267.9" stroke="#6f6f6f"/>
<line x1="335.6" y1="267.9" x2="332.1" y2="277.4" stroke="#6d6d6d"/>
<line x1="332.1" y1="277.4" x2="328.7" y2="286.5" stroke="#6a6a6a"/>
<line x1="328.7" y1="286.5" x2="325.1" y2="295.8" stroke="#666666"/>
<line x1="325.1" y1="295.8" x2="321.6" y2="304.8" stroke="#747474"/>
<line x1="321.6" y1="304.8" x2="318.1" y2="313.6" stroke="#747474"/>
<line x1="318.1" y1="313.6" x2="314.7" y2="322.5" stroke="#737373"/>
<line x1="314.7" y1="322.5" x2="311.1" y2="331.2" stroke="#717171"/>
<line x1="311.1" y1="331.2" x2="307.8" y2="339.7" stroke="#717171"/>
<line x1="381.4" y1="143.1" x2="377.4" y2="162.1" stroke="#666666"/>
<line x1="377.4" y1="162.1" x2="374.6" y2="177.7" stroke="#707070"/>
<line x1="374.6" y1="177.7" x2="371.8" y2="191.9" stroke="#737373"/>
<line x1="371.8" y1="191.9" x2="368.9" y2="204.3" stroke="#747474"/>
<line x1="368.9" y1="204.3" x2="366.0" y2="216.6" stroke="#757575"/>
<line x1="366.0" y1="216.6" x2="362.4" y2="227.4" stroke="#757575"/>
<line x1="362.4" y1="227.4" x2="358.9" y2="237.9" stroke="#747474"/>
<line x1="358.9" y1="237.9" x2="355.7" y2="248.5" stroke="#737373"/>
<line x1="355.7" y1="248.5" x2="352.3" y2="258.5" stroke="#717171"/>
<line x1="352.3" y1="258.5" x2="348.9" y2="268.5" stroke="#6f6f6f"/>
<line x1="348.9" y1="268.5" x2="345.4" y2="278.0" stroke="#6d6d6d"/>
<line x1="345.4" y1="278.0" x2="342.1" y2="287.1" stroke="#6a6a6a"/>
<line x1="342.1" y1="287.1" x2="338.6" y2="296.4" stroke="#676767"/>
<line x1="338.6" y1="296.4" x2="335.1" y2="305.4" stroke="#757575"/>
<line x1="335.1" y1="305.4" x2="331.7" y2="314.2" stroke="#757575"/>
<line x1="331.7" y1="314.2" x2="328.3" y2="323.0" stroke="#757575"/>
<line x1="328.3" y1="323.0" x2="324.8" y2="331.7" stroke="#737373"/>
<line x1="324.8" y1="331.7" x2="321.5" y2="340.2" stroke="#727272"/>
<line x1="394.6" y1="143.8" x2="390.6" y2="162.7" stroke="#666666"/>
<line x1="390.6" y1="162.7" x2="387.8" y2="178.4" stroke="#707070"/>
<line x1="387.8" y1="178.4" x2="384.9" y2="192.5" stroke="#737373"/>
<line x1="384.9" y1="192.5" x2="382.0" y2="204.9" stroke="#747474"/>
<line x1="382.0" y1="204.9" x2="379.1" y2="217.3" stroke="#767676"/>
<line x1="379.1" y1="217.3" x2="375.5" y2="228.0" stroke="#757575"/>
<line x1="375.5" y1="228.0" x2="372.1" y2="238.5" stroke="#747474"/>
<line x1="372.1" y1="238.5" x2="368.9" y2="249.0" stroke="#737373"/>
<line x1="368.9" y1="249.0" x2="365.6" y2="259.0" stroke="#717171"/>
<line x1="365.6" y1="259.0" x2="362.3" y2="269.0" stroke="#707070"/>
<line x1="362.3" y1="269.0" x2="358.8" y2="278.6" stroke="#6d6d6d"/>
<line x1="358.8" y1="278.6" x2="355.5" y2="287.7" stroke="#6a6a6a"/>
<line x1="355.5" y1="287.7" x2="352.0" y2="296.9" stroke="#676767"/>
<line x1="352.0" y1="296.9" x2="348.6" y2="305.9" stroke="#767676"/>
<line x1="348.6" y1="305.9" x2="345.3" y2="314.7" stroke="#767676"/>
<line x1="345.3" y1="314.7" x2="341.9" y2="323.6" stroke="#767676"/>
<line x1="341.9" y1="323.6" x2="338.5" y2="332.2" stroke="#747474"/>
<line x1="338.5" y1="332.2" x2="335.2" y2="340.6" stroke="#747474"/>
<line x1="407.7" y1="144.4" x2="403.7" y2="163.4" stroke="#666666"/>
<line x1="403.7" y1="163.4" x2="400.9" y2="179.0" stroke="#707070"/>
<line x1="400.9" y1="179.0" x2="398.1" y2="193.2" stroke="#737373"/>
<line x1="398.1" y1="193.2" x2="395.2" y2="205.6" stroke="#747474"/>
<line x1="395.2" y1="205.6" x2="392.2" y2="217.9" stroke="#767676"/>
<line x1="392.2" y1="217.9" x2="388.7" y2="228.7" stroke="#757575"/>
<line x1="388.7" y1="228.7" x2="385.3" y2="239.1" stroke="#747474"/>
<line x1="385.3" y1="239.1" x2="382.2" y2="249.6" stroke="#737373"/>
<line x1="382.2" y1="249.6" x2="379.0" y2="259.6" stroke="#717171"/>
<line x1="379.0" y1="259.6" x2="375.7" y2="269.6" stroke="#707070"/>
<line x1="375.7" y1="269.6" x2="372.2" y2="279.2" stroke="#6e6e6e"/>
<line x1="372.2" y1="279.2" x2="368.9" y2="288.3" stroke="#6b6b6b"/>
<line x1="368.9" y1="288.3" x2="365.5" y2="297.5" stroke="#676767"/>
<line x1="365.5" y1="297.5" x2="362.2" y2="306.5" stroke="#777777"/>
<line x1="362.2" y1="306.5" x2="358.8" y2="315.3" stroke="#787878"/>
<line x1="358.8" y1="315.3" x2="355.5" y2="324.1" stroke="#777777"/>
<line x1="355.5" y1="324.1" x2="352.2" y2="332.7" stroke="#767676"/>
<line x1="352.2" y1="332.7" x2="348.9" y2="341.1" stroke="#757575"/>
<line x1="421.0" y1="145.1" x2="417.0" y2="164.0" stroke="#656565"/>
<line x1="417.0" y1="164.0" x2="414.1" y2="179.7" stroke="#707070"/>
<line x1="414.1" y1="179.7" x2="411.2" y2="193.8" stroke="#737373"/>
<line x1="411.2" y1="193.8" x2="408.3" y2="206.2" stroke="#747474"/>
<line x1="408.3" y1="206.2" x2="405.4" y2="218.6" stroke="#767676"/>
<line x1="405.4" y1="218.6" x2="401.9" y2="229.3" stroke="#757575"/>
<line x1="401.9" y1="229.3" x2="398.6" y2="239.7" stroke="#747474"/>
<line x1="398.6" y1="239.7" x2="395.6" y2="250.2" stroke="#737373"/>
<line x1="395.6" y1="250.2" x2="392.5" y2="260.2" stroke="#717171"/>
<line x1="392.5" y1="260.2" x2="389.1" y2="270.2" stroke="#707070"/>
<line x1="389.1" y1="270.2" x2="385.6" y2="279.7" stroke="#6e6e6e"/>
<line x1="385.6" y1="279.7" x2="382.4" y2="288.9" stroke="#6b6b6b"/>
<line x1="382.4" y1="288.9" x2="379.0" y2="298.1" stroke="#686868"/>
<line x1="379.0" y1="298.1" x2="375.7" y2="307.1" stroke="#787878"/>
<line x1="375.7" y1="307.1" x2="372.5" y2="315.8" stroke="#797979"/>
<line x1="372.5" y1="315.8" x2="369.2" y2="324.6" stroke="#787878"/>
<line x1="369.2" y1="324.6" x2="365.9" y2="333.2" stroke="#777777"/>
<line x1="365.9" y1="333.2" x2="362.6" y2="341.6" stroke="#777777"/>
<line x1="434.3" y1="145.7" x2="430.3" y2="164.7" stroke="#656565"/>
<line x1="430.3" y1="164.7" x2="427.4" y2="180.3" stroke="#707070"/>
<line x1="427.4" y1="180.3" x2="424.5" y2="194.4" stroke="#737373"/>
<line x1="424.5" y1="194.4" x2="421.5" y2="206.8" stroke="#747474"/>
<line x1="421.5" y1="206.8" x2="418.5" y2="219.3" stroke="#767676"/>
<line x1="418.5" y1="219.3" x2="415.1" y2="230.0" stroke="#757575"/>
<line x1="415.1" y1="230.0" x2="411.9" y2="240.3" stroke="#747474"/>
<line x1="411.9" y1="240.3" x2="408.9" y2="250.8" stroke="#737373"/>
<line x1="408.9" y1="250.8" x2="405.9" y2="260.8" stroke="#727272"/>
<line x1="405.9" y1="260.8" x2="402.5" y2="270.8" stroke="#707070"/>
<line x1="402.5" y1="270.8" x2="399.0" y2="280.3" stroke="#6e6e6e"/>
<line x1="399.0" y1="280.3" x2="395.8" y2="289.4" stroke="#6b6b6b"/>
<line x1="395.8" y1="289.4" x2="392.6" y2="298.6" stroke="#686868"/>
<line x1="392.6" y1="298.6" x2="389.3" y2="307.6" stroke="#797979"/>
<line x1="389.3" y1="307.6" x2="386.1" y2="316.4" stroke="#7a7a7a"/>
<line x1="386.1" y1="316.4" x2="382.9" y2="325.2" stroke="#7a7a7a"/>
<line x1="382.9" y1="325.2" x2="379.7" y2="333.7" stroke="#797979"/>
<line x1="379.7" y1="333.7" x2="376.4" y2="342.1" stroke="#787878"/>
<line x1="447.6" y1="146.4" x2="443.6" y2="165.3" stroke="#656565"/>
<line x1="443.6" y1="165.3" x2="440.7" y2="181.0" stroke="#707070"/>
<line x1="440.7" y1="181.0" x2="437.7" y2="195.0" stroke="#737373"/>
<line x1="437.7" y1="195.0" x2="434.7" y2="207.4" stroke="#747474"/>
<line x1="434.7" y1="207.4" x2="431.8" y2="219.9" stroke="#767676"/>
<line x1="431.8" y1="219.9" x2="428.3" y2="230.6" stroke="#757575"/>
<line x1="428.3" y1="230.6" x2="425.2" y2="240.9" stroke="#747474"/>
<line x1="425.2" y1="240.9" x2="422.3" y2="251.3" stroke="#737373"/>
<line x1="422.3" y1="251.3" x2="419.4" y2="261.3" stroke="#727272"/>
<line x1="419.4" y1="261.3" x2="416.0" y2="271.3" stroke="#707070"/>
<line x1="416.0" y1="271.3" x2="412.5" y2="280.9" stroke="#6e6e6e"/>
<line x1="412.5" y1="280.9" x2="409.4" y2="290.0" stroke="#6c6c6c"/>
<line x1="409.4" y1="290.0" x2="406.2" y2="299.2" stroke="#686868"/>
<line x1="406.2" y1="299.2" x2="403.0" y2="308.2" stroke="#7a7a7a"/>
<line x1="403.0" y1="308.2" x2="399.8" y2="316.9" stroke="#7b7b7b"/>
<line x1="399.8" y1="316.9" x2="396.6" y2="325.7" stroke="#7b7b7b"/>
<line x1="396.6" y1="325.7" x2="393.4" y2="334.2" stroke="#7a7a7a"/>
<line x1="393.4" y1="334.2" x2="390.2" y2="342.5" stroke="#7a7a7a"/>
<line x1="461.0" y1="147.0" x2="457.0" y2="166.0" stroke="#656565"/>
<line x1="457.0" y1="166.0" x2="454.0" y2="181.6" stroke="#707070"/>
<line x1="454.0" y1="181.6" x2="451.0" y2="195.6" stroke="#737373"/>
<line x1="451.0" y1="195.6" x2="448.0" y2="208.0" stroke="#747474"/>
<line x1="448.0" y1="208.0" x2="445.0" y2="220.6" stroke="#767676"/>
<line x1="445.0" y1="220.6" x2="441.6" y2="231.2" stroke="#757575"/>
<line x1="441.6" y1="231.2" x2="438.5" y2="241.5" stroke="#747474"/>
<line x1="438.5" y1="241.5" x2="435.8" y2="251.9" stroke="#737373"/>
<line x1="435.8" y1="251.9" x2="432.9" y2="261.9" stroke="#727272"/>
<line x1="432.9" y1="261.9" x2="429.5" y2="271.9" stroke="#707070"/>
<line x1="429.5" y1="271.9" x2="426.0" y2="281.5" stroke="#6e6e6e"/>
<line x1="426.0" y1="281.5" x2="422.9" y2="290.6" stroke="#6c6c6c"/>
<line x1="422.9" y1="290.6" x2="419.8" y2="299.8" stroke="#686868"/>
<line x1="419.8" y1="299.8" x2="416.6" y2="308.8" stroke="#7a7a7a"/>
<line x1="416.6" y1="308.8" x2="413.5" y2="317.5" stroke="#7b7b7b"/>
<line x1="413.5" y1="317.5" x2="410.4" y2="326.2" stroke="#7b7b7b"/>
<line x1="410.4" y1="326.2" x2="407.2" y2="334.8" stroke="#7a7a7a"/>
<line x1="407.2" y1="334.8" x2="404.0" y2="343.0" stroke="#7a7a7a"/>
</g>
<polygon points="218.0,89.8 464.4,103.8 461.0,147.0 215.0,134.8" fill="#6f6f6f"/>
<g stroke="#6a6a6a" stroke-width="0.6">
<line x1="230.5" y1="90.5" x2="227.5" y2="135.4"/>
<line x1="243.1" y1="91.3" x2="240.1" y2="136.1"/>
<line x1="255.7" y1="92.0" x2="252.7" y2="136.7"/>
<line x1="268.4" y1="92.7" x2="265.3" y2="137.4"/>
<line x1="281.1" y1="93.5" x2="278.0" y2="138.0"/>
<line x1="293.9" y1="94.2" x2="290.8" y2="138.7"/>
<line x1="306.7" y1="95.0" x2="303.6" y2="139.3"/>
<line x1="319.6" y1="95.7" x2="316.4" y2="139.9"/>
<line x1="332.5" y1="96.4" x2="329.3" y2="140.6"/>
<line x1="345.5" y1="97.2" x2="342.3" y2="141.2"/>
<line x1="358.5" y1="97.9" x2="355.3" y2="141.9"/>
<line x1="371.6" y1="98.6" x2="368.3" y2="142.5"/>
<line x1="384.7" y1="99.4" x2="381.4" y2="143.1"/>
<line x1="397.9" y1="100.1" x2="394.6" y2="143.8"/>
<line x1="411.1" y1="100.9" x2="407.7" y2="144.4"/>
<line x1="424.3" y1="101.6" x2="421.0" y2="145.1"/>
<line x1="437.6" y1="102.3" x2="434.3" y2="145.7"/>
<line x1="451.0" y1="103.1" x2="447.6" y2="146.4"/>
</g>
<g fill="#000">
<circle cx="465.0" cy="110.7" r="1.7"/>
<circle cx="463.2" cy="136.2" r="1.7"/>
<circle cx="462.0" cy="143.0" r="1.7"/>
<rect x="447.6" y="147.3" width="3.2" height="1.8"/>
<circle cx="425.5" cy="156.8" r="1.7"/>
<circle cx="436.8" cy="159.0" r="1.7"/>
<circle cx="385.0" cy="183.2" r="1.7"/>
<circle cx="415.0" cy="192.5" r="1.7"/>
<circle cx="412.5" cy="195.5" r="1.7"/>
<circle cx="398.5" cy="198.8" r="1.7"/>
<circle cx="360.5" cy="202.0" r="1.7"/>
<circle cx="396.0" cy="223.8" r="1.7"/>
<circle cx="378.2" cy="224.0" r="1.7"/>
<circle cx="343.8" cy="222.0" r="1.7"/>
<circle cx="345.5" cy="229.5" r="1.7"/>
<circle cx="319.2" cy="223.2" r="1.7"/>
<circle cx="290.8" cy="247.0" r="1.7"/>
<circle cx="279.2" cy="247.5" r="1.7"/>
<circle cx="281.0" cy="253.2" r="1.7"/>
<rect x="272.8" y="271.0" width="3" height="3"/>
<circle cx="260.5" cy="277.5" r="1.7"/>
<rect x="245.1" y="267.1" width="3" height="3"/>
<circle cx="231.0" cy="284.6" r="1.7"/>
<circle cx="212.0" cy="288.0" r="1.7"/>
<circle cx="213.5" cy="287.3" r="1.7"/>
<circle cx="193.6" cy="301.4" r="1.7"/>
<circle cx="154.0" cy="323.7" r="1.7"/>
<circle cx="156.0" cy="323.0" r="1.7"/>
<circle cx="150.7" cy="331.7" r="1.7"/>
</g>
<polyline points="116.2,137 122.4,349.3 417.5,373.2" stroke="#b4b4b4" stroke-width="0.8" fill="none"/>
<g stroke="#1a1a1a" stroke-width="0.95" fill="none" stroke-linecap="round">
<polyline points="114.7,135 121.2,350.5 418,374.5 480.4,292"/>
</g>
<g stroke="#111" stroke-width="1.1" stroke-linecap="round">
<line x1="113.3" y1="140.8" x2="116.1" y2="140.2"/>
<line x1="114.1" y1="168.4" x2="116.9" y2="167.8"/>
<line x1="114.9" y1="196.0" x2="117.7" y2="195.4"/>
<line x1="115.8" y1="223.6" x2="118.6" y2="223.0"/>
<line x1="116.6" y1="251.2" x2="119.4" y2="250.6"/>
<line x1="117.4" y1="278.8" x2="120.2" y2="278.2"/>
<line x1="118.3" y1="306.4" x2="121.1" y2="305.8"/>
<line x1="119.1" y1="334.0" x2="121.9" y2="333.4"/>
<line x1="145.8" y1="351.8" x2="143.8" y2="354.0"/>
<line x1="195.3" y1="355.8" x2="193.3" y2="358.0"/>
<line x1="244.8" y1="359.8" x2="242.8" y2="362.0"/>
<line x1="294.3" y1="363.8" x2="292.3" y2="366.0"/>
<line x1="343.8" y1="367.8" x2="341.8" y2="370.0"/>
<line x1="393.3" y1="371.8" x2="391.3" y2="374.0"/>
<line x1="476.2" y1="295.8" x2="482.2" y2="294.8"/>
<line x1="469.1" y1="305.2" x2="475.1" y2="304.2"/>
<line x1="462.0" y1="314.6" x2="468.0" y2="313.6"/>
<line x1="454.9" y1="324.1" x2="460.9" y2="323.1"/>
<line x1="447.7" y1="333.5" x2="453.7" y2="332.5"/>
<line x1="440.6" y1="342.9" x2="446.6" y2="341.9"/>
<line x1="433.5" y1="352.3" x2="439.5" y2="351.3"/>
<line x1="426.4" y1="361.7" x2="432.4" y2="360.7"/>
<line x1="419.3" y1="371.2" x2="425.3" y2="370.2"/>
</g>
<g font-family="'Liberation Sans',Arial,sans-serif" fill="#000">
<text x="152.2" y="14.7" font-size="17.8" font-style="italic">Aldabrachelys gigantea</text>
<text x="341.9" y="14.5" font-size="18" font-weight="bold">3D Cooling Curve:</text>
<text y="35.1" font-size="18.15" font-weight="bold"><tspan x="1.2">Time (s) and Ambient Temperature (</tspan><tspan x="320.2">C) vs. Tortoise Temperature (</tspan><tspan x="580.2">C)</tspan></text>
<text y="33" font-size="14"><tspan x="310.9">˚</tspan><tspan x="570.2">˚</tspan></text>
<g font-size="13.9" font-weight="bold">
<text x="94.1" y="145.7">32</text>
<text x="97.1" y="202.8">31</text>
<text x="97.6" y="257.8">30</text>
<text x="98.1" y="313.0">29</text>
<text x="100.6" y="354.0">28</text>
<text x="137.1" y="367.9">28</text>
<text x="186.8" y="372.1">28.5</text>
<text x="234.8" y="375.1">29</text>
<text x="284.1" y="379.1">29.5</text>
<text x="335.6" y="383.6">30</text>
<text x="384.3" y="387.9">30.5</text>
<text x="487.3" y="298.0">0</text>
<text x="470.5" y="318.3">2000</text>
<text x="458.7" y="337.1">4000</text>
<text x="440.1" y="355.9">6000</text>
<text x="427.8" y="376.9">8000</text>
</g>
<text transform="translate(160.5,387) rotate(3.8)" font-size="15" font-weight="bold"><tspan x="0">Ambient Temperature (</tspan><tspan x="172.3">C)</tspan></text>
<text transform="translate(160.5,387) rotate(3.8)" font-size="12" x="164.5" y="-1.5">˚</text>
<text transform="translate(96.6,334.3) rotate(-92.68)" font-size="15.15" font-weight="bold"><tspan x="0">Tortoise Temperature (</tspan><tspan x="172">C)</tspan></text>
<text transform="translate(96.6,334.3) rotate(-92.68)" font-size="12" x="164.2" y="-1.5">˚</text>
<text transform="translate(478.5,371.2) rotate(-52.5)" font-size="14.7" font-weight="bold">Time (s)</text>
</g>
</svg>
</body></html>
